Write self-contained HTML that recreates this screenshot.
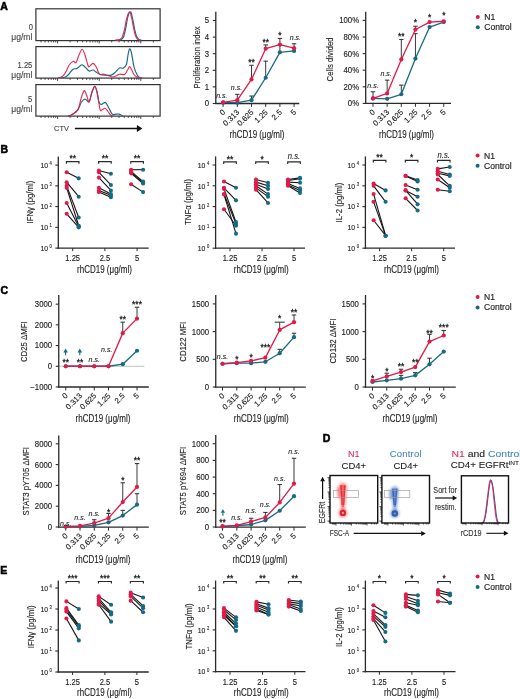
<!DOCTYPE html>
<html><head><meta charset="utf-8"><style>
html,body{margin:0;padding:0;background:#fff;}
svg{display:block;will-change:transform;}
text{font-family:"Liberation Sans", sans-serif;}
</style></head><body>
<svg width="520" height="699" viewBox="0 0 520 699">
<rect width="520" height="699" fill="#fff"/>
<text transform="translate(0.3,9.6)" font-size="10.5" fill="#000" font-weight="bold" stroke="#000" stroke-width="0.55" >A</text>
<text transform="translate(0.5,152.6)" font-size="10.5" fill="#000" font-weight="bold" stroke="#000" stroke-width="0.55" >B</text>
<text transform="translate(0.5,294)" font-size="10.5" fill="#000" font-weight="bold" stroke="#000" stroke-width="0.55" >C</text>
<text transform="translate(322.8,442.2)" font-size="10.5" fill="#000" font-weight="bold" stroke="#000" stroke-width="0.55" >D</text>
<text transform="translate(0.3,574)" font-size="10.5" fill="#000" font-weight="bold" stroke="#000" stroke-width="0.55" >E</text>
<line x1="215.8" y1="11.8" x2="215.8" y2="104.1" stroke="#2a2a2a" stroke-width="1.3" />
<line x1="215.2" y1="103.5" x2="299.3" y2="103.5" stroke="#2a2a2a" stroke-width="1.3" />
<line x1="212.8" y1="103.5" x2="215.8" y2="103.5" stroke="#2a2a2a" stroke-width="1.1" />
<text transform="translate(209.2,106.4) scale(0.95,1)" font-size="8.2" fill="#1c1c1c" text-anchor="end" stroke="#1c1c1c" stroke-width="0.13" >0</text>
<line x1="212.8" y1="86.9" x2="215.8" y2="86.9" stroke="#2a2a2a" stroke-width="1.1" />
<text transform="translate(209.2,89.8) scale(0.95,1)" font-size="8.2" fill="#1c1c1c" text-anchor="end" stroke="#1c1c1c" stroke-width="0.13" >1</text>
<line x1="212.8" y1="70.3" x2="215.8" y2="70.3" stroke="#2a2a2a" stroke-width="1.1" />
<text transform="translate(209.2,73.2) scale(0.95,1)" font-size="8.2" fill="#1c1c1c" text-anchor="end" stroke="#1c1c1c" stroke-width="0.13" >2</text>
<line x1="212.8" y1="53.7" x2="215.8" y2="53.7" stroke="#2a2a2a" stroke-width="1.1" />
<text transform="translate(209.2,56.6) scale(0.95,1)" font-size="8.2" fill="#1c1c1c" text-anchor="end" stroke="#1c1c1c" stroke-width="0.13" >3</text>
<line x1="212.8" y1="37.1" x2="215.8" y2="37.1" stroke="#2a2a2a" stroke-width="1.1" />
<text transform="translate(209.2,40) scale(0.95,1)" font-size="8.2" fill="#1c1c1c" text-anchor="end" stroke="#1c1c1c" stroke-width="0.13" >4</text>
<line x1="212.8" y1="20.5" x2="215.8" y2="20.5" stroke="#2a2a2a" stroke-width="1.1" />
<text transform="translate(209.2,23.4) scale(0.95,1)" font-size="8.2" fill="#1c1c1c" text-anchor="end" stroke="#1c1c1c" stroke-width="0.13" >5</text>
<line x1="223.1" y1="103.5" x2="223.1" y2="106.9" stroke="#2a2a2a" stroke-width="1" />
<text transform="translate(225.7,112.8) rotate(-45)" font-size="7.8" fill="#1c1c1c" text-anchor="end" stroke="#1c1c1c" stroke-width="0.13" >0</text>
<line x1="237.3" y1="103.5" x2="237.3" y2="106.9" stroke="#2a2a2a" stroke-width="1" />
<text transform="translate(239.9,112.8) rotate(-45)" font-size="7.8" fill="#1c1c1c" text-anchor="end" stroke="#1c1c1c" stroke-width="0.13" >0.313</text>
<line x1="251.5" y1="103.5" x2="251.5" y2="106.9" stroke="#2a2a2a" stroke-width="1" />
<text transform="translate(254.1,112.8) rotate(-45)" font-size="7.8" fill="#1c1c1c" text-anchor="end" stroke="#1c1c1c" stroke-width="0.13" >0.625</text>
<line x1="265.7" y1="103.5" x2="265.7" y2="106.9" stroke="#2a2a2a" stroke-width="1" />
<text transform="translate(268.3,112.8) rotate(-45)" font-size="7.8" fill="#1c1c1c" text-anchor="end" stroke="#1c1c1c" stroke-width="0.13" >1.25</text>
<line x1="279.9" y1="103.5" x2="279.9" y2="106.9" stroke="#2a2a2a" stroke-width="1" />
<text transform="translate(282.5,112.8) rotate(-45)" font-size="7.8" fill="#1c1c1c" text-anchor="end" stroke="#1c1c1c" stroke-width="0.13" >2.5</text>
<line x1="294.1" y1="103.5" x2="294.1" y2="106.9" stroke="#2a2a2a" stroke-width="1" />
<text transform="translate(296.7,112.8) rotate(-45)" font-size="7.8" fill="#1c1c1c" text-anchor="end" stroke="#1c1c1c" stroke-width="0.13" >5</text>
<line x1="251.5" y1="100.18" x2="251.5" y2="96.03" stroke="#3a3a3a" stroke-width="1" />
<line x1="249.3" y1="96.03" x2="253.7" y2="96.03" stroke="#3a3a3a" stroke-width="1.1" />
<line x1="265.7" y1="77.77" x2="265.7" y2="61.17" stroke="#3a3a3a" stroke-width="1" />
<line x1="263.5" y1="61.17" x2="267.9" y2="61.17" stroke="#3a3a3a" stroke-width="1.1" />
<line x1="279.9" y1="52.37" x2="279.9" y2="45.4" stroke="#3a3a3a" stroke-width="1" />
<line x1="277.7" y1="45.4" x2="282.1" y2="45.4" stroke="#3a3a3a" stroke-width="1.1" />
<line x1="237.3" y1="100.18" x2="237.3" y2="94.37" stroke="#3a3a3a" stroke-width="1" />
<line x1="235.1" y1="94.37" x2="239.5" y2="94.37" stroke="#3a3a3a" stroke-width="1.1" />
<line x1="251.5" y1="79.43" x2="251.5" y2="65.32" stroke="#3a3a3a" stroke-width="1" />
<line x1="249.3" y1="65.32" x2="253.7" y2="65.32" stroke="#3a3a3a" stroke-width="1.1" />
<line x1="265.7" y1="48.72" x2="265.7" y2="44.9" stroke="#3a3a3a" stroke-width="1" />
<line x1="263.5" y1="44.9" x2="267.9" y2="44.9" stroke="#3a3a3a" stroke-width="1.1" />
<line x1="279.9" y1="44.57" x2="279.9" y2="38.43" stroke="#3a3a3a" stroke-width="1" />
<line x1="277.7" y1="38.43" x2="282.1" y2="38.43" stroke="#3a3a3a" stroke-width="1.1" />
<line x1="294.1" y1="48.22" x2="294.1" y2="43.74" stroke="#3a3a3a" stroke-width="1" />
<line x1="291.9" y1="43.74" x2="296.3" y2="43.74" stroke="#3a3a3a" stroke-width="1.1" />
<polyline points="223.1,102.67 237.3,102.67 251.5,100.18 265.7,77.77 279.9,52.37 294.1,50.88" fill="none" stroke="#176A84" stroke-width="1.3" stroke-linejoin="round" />
<circle cx="223.1" cy="102.67" r="2.1" fill="#176A84"/>
<circle cx="237.3" cy="102.67" r="2.1" fill="#176A84"/>
<circle cx="251.5" cy="100.18" r="2.1" fill="#176A84"/>
<circle cx="265.7" cy="77.77" r="2.1" fill="#176A84"/>
<circle cx="279.9" cy="52.37" r="2.1" fill="#176A84"/>
<circle cx="294.1" cy="50.88" r="2.1" fill="#176A84"/>
<polyline points="223.1,102.34 237.3,100.18 251.5,79.43 265.7,48.72 279.9,44.57 294.1,48.22" fill="none" stroke="#E11A47" stroke-width="1.3" stroke-linejoin="round" />
<circle cx="223.1" cy="102.34" r="2.1" fill="#E11A47"/>
<circle cx="237.3" cy="100.18" r="2.1" fill="#E11A47"/>
<circle cx="251.5" cy="79.43" r="2.1" fill="#E11A47"/>
<circle cx="265.7" cy="48.72" r="2.1" fill="#E11A47"/>
<circle cx="279.9" cy="44.57" r="2.1" fill="#E11A47"/>
<circle cx="294.1" cy="48.22" r="2.1" fill="#E11A47"/>
<text transform="translate(221.8,97.7) scale(0.88,1)" font-size="8" fill="#1c1c1c" text-anchor="middle" font-style="italic" stroke="#1c1c1c" stroke-width="0.1" >n.s.</text>
<text transform="translate(236.5,89.6) scale(0.88,1)" font-size="8" fill="#1c1c1c" text-anchor="middle" font-style="italic" stroke="#1c1c1c" stroke-width="0.1" >n.s.</text>
<text transform="translate(251.5,65)" font-size="8.4" fill="#1c1c1c" text-anchor="middle" stroke="#1c1c1c" stroke-width="0.3" >**</text>
<text transform="translate(265.7,44.8)" font-size="8.4" fill="#1c1c1c" text-anchor="middle" stroke="#1c1c1c" stroke-width="0.3" >**</text>
<text transform="translate(279.9,37.5)" font-size="8.4" fill="#1c1c1c" text-anchor="middle" stroke="#1c1c1c" stroke-width="0.3" >*</text>
<text transform="translate(295.3,39.9) scale(0.88,1)" font-size="8" fill="#1c1c1c" text-anchor="middle" font-style="italic" stroke="#1c1c1c" stroke-width="0.1" >n.s.</text>
<text transform="translate(199.6,57.4) rotate(-90) scale(0.82,1)" font-size="9.5" fill="#1c1c1c" text-anchor="middle" stroke="#1c1c1c" stroke-width="0.13" >Proliferation index</text>
<text transform="translate(257,138.2) scale(0.8,1)" font-size="10" fill="#1c1c1c" text-anchor="middle" stroke="#1c1c1c" stroke-width="0.13" >rhCD19 (μg/ml)</text>
<line x1="365.7" y1="11.8" x2="365.7" y2="104" stroke="#2a2a2a" stroke-width="1.3" />
<line x1="365.1" y1="103.4" x2="451" y2="103.4" stroke="#2a2a2a" stroke-width="1.3" />
<line x1="362.7" y1="103.4" x2="365.7" y2="103.4" stroke="#2a2a2a" stroke-width="1.1" />
<text transform="translate(359.1,106.3) scale(0.95,1)" font-size="8.2" fill="#1c1c1c" text-anchor="end" stroke="#1c1c1c" stroke-width="0.13" >0%</text>
<line x1="362.7" y1="86.8" x2="365.7" y2="86.8" stroke="#2a2a2a" stroke-width="1.1" />
<text transform="translate(359.1,89.7) scale(0.95,1)" font-size="8.2" fill="#1c1c1c" text-anchor="end" stroke="#1c1c1c" stroke-width="0.13" >20%</text>
<line x1="362.7" y1="70.2" x2="365.7" y2="70.2" stroke="#2a2a2a" stroke-width="1.1" />
<text transform="translate(359.1,73.1) scale(0.95,1)" font-size="8.2" fill="#1c1c1c" text-anchor="end" stroke="#1c1c1c" stroke-width="0.13" >40%</text>
<line x1="362.7" y1="53.6" x2="365.7" y2="53.6" stroke="#2a2a2a" stroke-width="1.1" />
<text transform="translate(359.1,56.5) scale(0.95,1)" font-size="8.2" fill="#1c1c1c" text-anchor="end" stroke="#1c1c1c" stroke-width="0.13" >60%</text>
<line x1="362.7" y1="37" x2="365.7" y2="37" stroke="#2a2a2a" stroke-width="1.1" />
<text transform="translate(359.1,39.9) scale(0.95,1)" font-size="8.2" fill="#1c1c1c" text-anchor="end" stroke="#1c1c1c" stroke-width="0.13" >80%</text>
<line x1="362.7" y1="20.4" x2="365.7" y2="20.4" stroke="#2a2a2a" stroke-width="1.1" />
<text transform="translate(359.1,23.3) scale(0.95,1)" font-size="8.2" fill="#1c1c1c" text-anchor="end" stroke="#1c1c1c" stroke-width="0.13" >100%</text>
<line x1="373" y1="103.4" x2="373" y2="106.8" stroke="#2a2a2a" stroke-width="1" />
<text transform="translate(375.6,112.7) rotate(-45)" font-size="7.8" fill="#1c1c1c" text-anchor="end" stroke="#1c1c1c" stroke-width="0.13" >0</text>
<line x1="387.15" y1="103.4" x2="387.15" y2="106.8" stroke="#2a2a2a" stroke-width="1" />
<text transform="translate(389.75,112.7) rotate(-45)" font-size="7.8" fill="#1c1c1c" text-anchor="end" stroke="#1c1c1c" stroke-width="0.13" >0.313</text>
<line x1="401.3" y1="103.4" x2="401.3" y2="106.8" stroke="#2a2a2a" stroke-width="1" />
<text transform="translate(403.9,112.7) rotate(-45)" font-size="7.8" fill="#1c1c1c" text-anchor="end" stroke="#1c1c1c" stroke-width="0.13" >0.625</text>
<line x1="415.45" y1="103.4" x2="415.45" y2="106.8" stroke="#2a2a2a" stroke-width="1" />
<text transform="translate(418.05,112.7) rotate(-45)" font-size="7.8" fill="#1c1c1c" text-anchor="end" stroke="#1c1c1c" stroke-width="0.13" >1.25</text>
<line x1="429.6" y1="103.4" x2="429.6" y2="106.8" stroke="#2a2a2a" stroke-width="1" />
<text transform="translate(432.2,112.7) rotate(-45)" font-size="7.8" fill="#1c1c1c" text-anchor="end" stroke="#1c1c1c" stroke-width="0.13" >2.5</text>
<line x1="443.75" y1="103.4" x2="443.75" y2="106.8" stroke="#2a2a2a" stroke-width="1" />
<text transform="translate(446.35,112.7) rotate(-45)" font-size="7.8" fill="#1c1c1c" text-anchor="end" stroke="#1c1c1c" stroke-width="0.13" >5</text>
<line x1="401.3" y1="94.27" x2="401.3" y2="85.14" stroke="#3a3a3a" stroke-width="1" />
<line x1="399.1" y1="85.14" x2="403.5" y2="85.14" stroke="#3a3a3a" stroke-width="1.1" />
<line x1="415.45" y1="58.58" x2="415.45" y2="33.68" stroke="#3a3a3a" stroke-width="1" />
<line x1="413.25" y1="33.68" x2="417.65" y2="33.68" stroke="#3a3a3a" stroke-width="1.1" />
<line x1="373" y1="98.42" x2="373" y2="91.78" stroke="#3a3a3a" stroke-width="1" />
<line x1="370.8" y1="91.78" x2="375.2" y2="91.78" stroke="#3a3a3a" stroke-width="1.1" />
<line x1="387.15" y1="93.44" x2="387.15" y2="80.16" stroke="#3a3a3a" stroke-width="1" />
<line x1="384.95" y1="80.16" x2="389.35" y2="80.16" stroke="#3a3a3a" stroke-width="1.1" />
<line x1="401.3" y1="59.41" x2="401.3" y2="39.49" stroke="#3a3a3a" stroke-width="1" />
<line x1="399.1" y1="39.49" x2="403.5" y2="39.49" stroke="#3a3a3a" stroke-width="1.1" />
<line x1="415.45" y1="29.53" x2="415.45" y2="26.21" stroke="#3a3a3a" stroke-width="1" />
<line x1="413.25" y1="26.21" x2="417.65" y2="26.21" stroke="#3a3a3a" stroke-width="1.1" />
<polyline points="373,98.42 387.15,98.84 401.3,94.27 415.45,58.58 429.6,27.04 443.75,22.06" fill="none" stroke="#176A84" stroke-width="1.3" stroke-linejoin="round" />
<circle cx="373" cy="98.42" r="2.1" fill="#176A84"/>
<circle cx="387.15" cy="98.84" r="2.1" fill="#176A84"/>
<circle cx="401.3" cy="94.27" r="2.1" fill="#176A84"/>
<circle cx="415.45" cy="58.58" r="2.1" fill="#176A84"/>
<circle cx="429.6" cy="27.04" r="2.1" fill="#176A84"/>
<circle cx="443.75" cy="22.06" r="2.1" fill="#176A84"/>
<polyline points="373,98.42 387.15,93.44 401.3,59.41 415.45,29.53 429.6,22.06 443.75,21.23" fill="none" stroke="#E11A47" stroke-width="1.3" stroke-linejoin="round" />
<circle cx="373" cy="98.42" r="2.1" fill="#E11A47"/>
<circle cx="387.15" cy="93.44" r="2.1" fill="#E11A47"/>
<circle cx="401.3" cy="59.41" r="2.1" fill="#E11A47"/>
<circle cx="415.45" cy="29.53" r="2.1" fill="#E11A47"/>
<circle cx="429.6" cy="22.06" r="2.1" fill="#E11A47"/>
<circle cx="443.75" cy="21.23" r="2.1" fill="#E11A47"/>
<text transform="translate(373,88.2) scale(0.88,1)" font-size="8" fill="#1c1c1c" text-anchor="middle" font-style="italic" stroke="#1c1c1c" stroke-width="0.1" >n.s.</text>
<text transform="translate(386.15,76.2) scale(0.88,1)" font-size="8" fill="#1c1c1c" text-anchor="middle" font-style="italic" stroke="#1c1c1c" stroke-width="0.1" >n.s.</text>
<text transform="translate(401.3,39.2)" font-size="8.4" fill="#1c1c1c" text-anchor="middle" stroke="#1c1c1c" stroke-width="0.3" >**</text>
<text transform="translate(415.45,24.7)" font-size="8.4" fill="#1c1c1c" text-anchor="middle" stroke="#1c1c1c" stroke-width="0.3" >*</text>
<text transform="translate(429.6,20.3)" font-size="8.4" fill="#1c1c1c" text-anchor="middle" stroke="#1c1c1c" stroke-width="0.3" >*</text>
<text transform="translate(443.75,18.3)" font-size="8.4" fill="#1c1c1c" text-anchor="middle" stroke="#1c1c1c" stroke-width="0.3" >*</text>
<text transform="translate(332.5,59.4) rotate(-90) scale(0.82,1)" font-size="9.5" fill="#1c1c1c" text-anchor="middle" stroke="#1c1c1c" stroke-width="0.13" >Cells divided</text>
<text transform="translate(406.5,138.2) scale(0.8,1)" font-size="10" fill="#1c1c1c" text-anchor="middle" stroke="#1c1c1c" stroke-width="0.13" >rhCD19 (μg/ml)</text>
<circle cx="477.8" cy="16.9" r="2" fill="#E11A47"/>
<text transform="translate(484.2,19.9) scale(1.02,1)" font-size="8.4" fill="#1c1c1c" stroke="#1c1c1c" stroke-width="0.15" >N1</text>
<circle cx="477.8" cy="27.2" r="2" fill="#176A84"/>
<text transform="translate(484.2,30.2) scale(1.02,1)" font-size="8.4" fill="#1c1c1c" stroke="#1c1c1c" stroke-width="0.15" >Control</text>
<line x1="58.3" y1="156.4" x2="58.3" y2="248.7" stroke="#2a2a2a" stroke-width="1.3" />
<line x1="57.7" y1="248.1" x2="148.7" y2="248.1" stroke="#2a2a2a" stroke-width="1.3" />
<line x1="55.3" y1="248.1" x2="58.3" y2="248.1" stroke="#2a2a2a" stroke-width="1.1" />
<text transform="translate(48,250.8) scale(0.85,1)" font-size="8" fill="#1c1c1c" text-anchor="end" stroke="#1c1c1c" stroke-width="0.13" >10</text>
<text transform="translate(49.6,248.2) scale(0.85,1)" font-size="4.9" fill="#1c1c1c" stroke="#1c1c1c" stroke-width="0.12" >0</text>
<line x1="55.3" y1="227.35" x2="58.3" y2="227.35" stroke="#2a2a2a" stroke-width="1.1" />
<text transform="translate(48,230.05) scale(0.85,1)" font-size="8" fill="#1c1c1c" text-anchor="end" stroke="#1c1c1c" stroke-width="0.13" >10</text>
<text transform="translate(49.6,227.45) scale(0.85,1)" font-size="4.9" fill="#1c1c1c" stroke="#1c1c1c" stroke-width="0.12" >1</text>
<line x1="55.3" y1="206.6" x2="58.3" y2="206.6" stroke="#2a2a2a" stroke-width="1.1" />
<text transform="translate(48,209.3) scale(0.85,1)" font-size="8" fill="#1c1c1c" text-anchor="end" stroke="#1c1c1c" stroke-width="0.13" >10</text>
<text transform="translate(49.6,206.7) scale(0.85,1)" font-size="4.9" fill="#1c1c1c" stroke="#1c1c1c" stroke-width="0.12" >2</text>
<line x1="55.3" y1="185.85" x2="58.3" y2="185.85" stroke="#2a2a2a" stroke-width="1.1" />
<text transform="translate(48,188.55) scale(0.85,1)" font-size="8" fill="#1c1c1c" text-anchor="end" stroke="#1c1c1c" stroke-width="0.13" >10</text>
<text transform="translate(49.6,185.95) scale(0.85,1)" font-size="4.9" fill="#1c1c1c" stroke="#1c1c1c" stroke-width="0.12" >3</text>
<line x1="55.3" y1="165.1" x2="58.3" y2="165.1" stroke="#2a2a2a" stroke-width="1.1" />
<text transform="translate(48,167.8) scale(0.85,1)" font-size="8" fill="#1c1c1c" text-anchor="end" stroke="#1c1c1c" stroke-width="0.13" >10</text>
<text transform="translate(49.6,165.2) scale(0.85,1)" font-size="4.9" fill="#1c1c1c" stroke="#1c1c1c" stroke-width="0.12" >4</text>
<line x1="72.7" y1="248.1" x2="72.7" y2="251.1" stroke="#2a2a2a" stroke-width="1" />
<text transform="translate(72.7,260.9) scale(0.88,1)" font-size="8.6" fill="#1c1c1c" text-anchor="middle" stroke="#1c1c1c" stroke-width="0.13" >1.25</text>
<path d="M66.4,163.7 V161.6 H79 V163.7" fill="none" stroke="#2a2a2a" stroke-width="1.15" />
<text transform="translate(72.7,161.4)" font-size="8.4" fill="#1c1c1c" text-anchor="middle" stroke="#1c1c1c" stroke-width="0.3" >**</text>
<line x1="66.7" y1="172.3" x2="78.7" y2="178.34" stroke="#151515" stroke-width="1.1" />
<line x1="66.7" y1="182.2" x2="78.7" y2="196.7" stroke="#151515" stroke-width="1.1" />
<line x1="66.7" y1="185.85" x2="78.7" y2="217.45" stroke="#151515" stroke-width="1.1" />
<line x1="66.7" y1="187.86" x2="78.7" y2="225.71" stroke="#151515" stroke-width="1.1" />
<line x1="66.7" y1="202.95" x2="78.7" y2="226.49" stroke="#151515" stroke-width="1.1" />
<line x1="66.7" y1="213.8" x2="78.7" y2="227.35" stroke="#151515" stroke-width="1.1" />
<circle cx="78.7" cy="178.34" r="2.05" fill="#176A84"/>
<circle cx="78.7" cy="196.7" r="2.05" fill="#176A84"/>
<circle cx="78.7" cy="217.45" r="2.05" fill="#176A84"/>
<circle cx="78.7" cy="225.71" r="2.05" fill="#176A84"/>
<circle cx="78.7" cy="226.49" r="2.05" fill="#176A84"/>
<circle cx="78.7" cy="227.35" r="2.05" fill="#176A84"/>
<circle cx="66.7" cy="172.3" r="2.05" fill="#E11A47"/>
<circle cx="66.7" cy="182.2" r="2.05" fill="#E11A47"/>
<circle cx="66.7" cy="185.85" r="2.05" fill="#E11A47"/>
<circle cx="66.7" cy="187.86" r="2.05" fill="#E11A47"/>
<circle cx="66.7" cy="202.95" r="2.05" fill="#E11A47"/>
<circle cx="66.7" cy="213.8" r="2.05" fill="#E11A47"/>
<line x1="104.9" y1="248.1" x2="104.9" y2="251.1" stroke="#2a2a2a" stroke-width="1" />
<text transform="translate(104.9,260.9) scale(0.88,1)" font-size="8.6" fill="#1c1c1c" text-anchor="middle" stroke="#1c1c1c" stroke-width="0.13" >2.5</text>
<path d="M98.6,163.7 V161.6 H111.2 V163.7" fill="none" stroke="#2a2a2a" stroke-width="1.15" />
<text transform="translate(104.9,161.4)" font-size="8.4" fill="#1c1c1c" text-anchor="middle" stroke="#1c1c1c" stroke-width="0.3" >**</text>
<line x1="98.9" y1="170.49" x2="110.9" y2="173.82" stroke="#151515" stroke-width="1.1" />
<line x1="98.9" y1="172.3" x2="110.9" y2="184.99" stroke="#151515" stroke-width="1.1" />
<line x1="98.9" y1="177.59" x2="110.9" y2="190.45" stroke="#151515" stroke-width="1.1" />
<line x1="98.9" y1="187.86" x2="110.9" y2="194.11" stroke="#151515" stroke-width="1.1" />
<line x1="98.9" y1="190.45" x2="110.9" y2="195.31" stroke="#151515" stroke-width="1.1" />
<line x1="98.9" y1="192.1" x2="110.9" y2="197.32" stroke="#151515" stroke-width="1.1" />
<circle cx="110.9" cy="173.82" r="2.05" fill="#176A84"/>
<circle cx="110.9" cy="184.99" r="2.05" fill="#176A84"/>
<circle cx="110.9" cy="190.45" r="2.05" fill="#176A84"/>
<circle cx="110.9" cy="194.11" r="2.05" fill="#176A84"/>
<circle cx="110.9" cy="195.31" r="2.05" fill="#176A84"/>
<circle cx="110.9" cy="197.32" r="2.05" fill="#176A84"/>
<circle cx="98.9" cy="170.49" r="2.05" fill="#E11A47"/>
<circle cx="98.9" cy="172.3" r="2.05" fill="#E11A47"/>
<circle cx="98.9" cy="177.59" r="2.05" fill="#E11A47"/>
<circle cx="98.9" cy="187.86" r="2.05" fill="#E11A47"/>
<circle cx="98.9" cy="190.45" r="2.05" fill="#E11A47"/>
<circle cx="98.9" cy="192.1" r="2.05" fill="#E11A47"/>
<line x1="137.1" y1="248.1" x2="137.1" y2="251.1" stroke="#2a2a2a" stroke-width="1" />
<text transform="translate(137.1,260.9) scale(0.88,1)" font-size="8.6" fill="#1c1c1c" text-anchor="middle" stroke="#1c1c1c" stroke-width="0.13" >5</text>
<path d="M130.8,163.7 V161.6 H143.4 V163.7" fill="none" stroke="#2a2a2a" stroke-width="1.15" />
<text transform="translate(137.1,161.4)" font-size="8.4" fill="#1c1c1c" text-anchor="middle" stroke="#1c1c1c" stroke-width="0.3" >**</text>
<line x1="131.1" y1="169.7" x2="143.1" y2="169.7" stroke="#151515" stroke-width="1.1" />
<line x1="131.1" y1="171.35" x2="143.1" y2="181.61" stroke="#151515" stroke-width="1.1" />
<line x1="131.1" y1="172.3" x2="143.1" y2="182.82" stroke="#151515" stroke-width="1.1" />
<line x1="131.1" y1="173.36" x2="143.1" y2="183.49" stroke="#151515" stroke-width="1.1" />
<line x1="131.1" y1="184.21" x2="143.1" y2="192.1" stroke="#151515" stroke-width="1.1" />
<circle cx="143.1" cy="169.7" r="2.05" fill="#176A84"/>
<circle cx="143.1" cy="181.61" r="2.05" fill="#176A84"/>
<circle cx="143.1" cy="182.82" r="2.05" fill="#176A84"/>
<circle cx="143.1" cy="183.49" r="2.05" fill="#176A84"/>
<circle cx="143.1" cy="192.1" r="2.05" fill="#176A84"/>
<circle cx="131.1" cy="169.7" r="2.05" fill="#E11A47"/>
<circle cx="131.1" cy="171.35" r="2.05" fill="#E11A47"/>
<circle cx="131.1" cy="172.3" r="2.05" fill="#E11A47"/>
<circle cx="131.1" cy="173.36" r="2.05" fill="#E11A47"/>
<circle cx="131.1" cy="184.21" r="2.05" fill="#E11A47"/>
<text transform="translate(32.6,202.1) rotate(-90) scale(0.82,1)" font-size="9.5" fill="#1c1c1c" text-anchor="middle" stroke="#1c1c1c" stroke-width="0.13" >IFNγ (pg/ml)</text>
<text transform="translate(104.5,272.7) scale(0.8,1)" font-size="10" fill="#1c1c1c" text-anchor="middle" stroke="#1c1c1c" stroke-width="0.13" >rhCD19 (μg/ml)</text>
<line x1="215.6" y1="156.4" x2="215.6" y2="248.8" stroke="#2a2a2a" stroke-width="1.3" />
<line x1="215" y1="248.2" x2="305" y2="248.2" stroke="#2a2a2a" stroke-width="1.3" />
<line x1="212.6" y1="248.2" x2="215.6" y2="248.2" stroke="#2a2a2a" stroke-width="1.1" />
<text transform="translate(205.3,250.9) scale(0.85,1)" font-size="8" fill="#1c1c1c" text-anchor="end" stroke="#1c1c1c" stroke-width="0.13" >10</text>
<text transform="translate(206.9,248.3) scale(0.85,1)" font-size="4.9" fill="#1c1c1c" stroke="#1c1c1c" stroke-width="0.12" >0</text>
<line x1="212.6" y1="227.4" x2="215.6" y2="227.4" stroke="#2a2a2a" stroke-width="1.1" />
<text transform="translate(205.3,230.1) scale(0.85,1)" font-size="8" fill="#1c1c1c" text-anchor="end" stroke="#1c1c1c" stroke-width="0.13" >10</text>
<text transform="translate(206.9,227.5) scale(0.85,1)" font-size="4.9" fill="#1c1c1c" stroke="#1c1c1c" stroke-width="0.12" >1</text>
<line x1="212.6" y1="206.6" x2="215.6" y2="206.6" stroke="#2a2a2a" stroke-width="1.1" />
<text transform="translate(205.3,209.3) scale(0.85,1)" font-size="8" fill="#1c1c1c" text-anchor="end" stroke="#1c1c1c" stroke-width="0.13" >10</text>
<text transform="translate(206.9,206.7) scale(0.85,1)" font-size="4.9" fill="#1c1c1c" stroke="#1c1c1c" stroke-width="0.12" >2</text>
<line x1="212.6" y1="185.8" x2="215.6" y2="185.8" stroke="#2a2a2a" stroke-width="1.1" />
<text transform="translate(205.3,188.5) scale(0.85,1)" font-size="8" fill="#1c1c1c" text-anchor="end" stroke="#1c1c1c" stroke-width="0.13" >10</text>
<text transform="translate(206.9,185.9) scale(0.85,1)" font-size="4.9" fill="#1c1c1c" stroke="#1c1c1c" stroke-width="0.12" >3</text>
<line x1="212.6" y1="165" x2="215.6" y2="165" stroke="#2a2a2a" stroke-width="1.1" />
<text transform="translate(205.3,167.7) scale(0.85,1)" font-size="8" fill="#1c1c1c" text-anchor="end" stroke="#1c1c1c" stroke-width="0.13" >10</text>
<text transform="translate(206.9,165.1) scale(0.85,1)" font-size="4.9" fill="#1c1c1c" stroke="#1c1c1c" stroke-width="0.12" >4</text>
<line x1="230" y1="248.2" x2="230" y2="251.2" stroke="#2a2a2a" stroke-width="1" />
<text transform="translate(230,261) scale(0.88,1)" font-size="8.6" fill="#1c1c1c" text-anchor="middle" stroke="#1c1c1c" stroke-width="0.13" >1.25</text>
<path d="M223.7,163.9 V161.8 H236.3 V163.9" fill="none" stroke="#2a2a2a" stroke-width="1.15" />
<text transform="translate(230,161.6)" font-size="8.4" fill="#1c1c1c" text-anchor="middle" stroke="#1c1c1c" stroke-width="0.3" >**</text>
<line x1="224" y1="181.55" x2="236" y2="187.82" stroke="#151515" stroke-width="1.1" />
<line x1="224" y1="187.82" x2="236" y2="200.34" stroke="#151515" stroke-width="1.1" />
<line x1="224" y1="189.02" x2="236" y2="222.09" stroke="#151515" stroke-width="1.1" />
<line x1="224" y1="194.08" x2="236" y2="223.74" stroke="#151515" stroke-width="1.1" />
<line x1="224" y1="194.54" x2="236" y2="233.66" stroke="#151515" stroke-width="1.1" />
<line x1="224" y1="209.2" x2="236" y2="225.75" stroke="#151515" stroke-width="1.1" />
<circle cx="236" cy="187.82" r="2.05" fill="#176A84"/>
<circle cx="236" cy="200.34" r="2.05" fill="#176A84"/>
<circle cx="236" cy="222.09" r="2.05" fill="#176A84"/>
<circle cx="236" cy="223.74" r="2.05" fill="#176A84"/>
<circle cx="236" cy="233.66" r="2.05" fill="#176A84"/>
<circle cx="236" cy="225.75" r="2.05" fill="#176A84"/>
<circle cx="224" cy="181.55" r="2.05" fill="#E11A47"/>
<circle cx="224" cy="187.82" r="2.05" fill="#E11A47"/>
<circle cx="224" cy="189.02" r="2.05" fill="#E11A47"/>
<circle cx="224" cy="194.08" r="2.05" fill="#E11A47"/>
<circle cx="224" cy="194.54" r="2.05" fill="#E11A47"/>
<circle cx="224" cy="209.2" r="2.05" fill="#E11A47"/>
<line x1="262" y1="248.2" x2="262" y2="251.2" stroke="#2a2a2a" stroke-width="1" />
<text transform="translate(262,261) scale(0.88,1)" font-size="8.6" fill="#1c1c1c" text-anchor="middle" stroke="#1c1c1c" stroke-width="0.13" >2.5</text>
<path d="M255.7,163.9 V161.8 H268.3 V163.9" fill="none" stroke="#2a2a2a" stroke-width="1.15" />
<text transform="translate(262,161.6)" font-size="8.4" fill="#1c1c1c" text-anchor="middle" stroke="#1c1c1c" stroke-width="0.3" >*</text>
<line x1="256" y1="179.54" x2="268" y2="182.76" stroke="#151515" stroke-width="1.1" />
<line x1="256" y1="182.14" x2="268" y2="185.8" stroke="#151515" stroke-width="1.1" />
<line x1="256" y1="184.15" x2="268" y2="189.02" stroke="#151515" stroke-width="1.1" />
<line x1="256" y1="185.8" x2="268" y2="194.08" stroke="#151515" stroke-width="1.1" />
<line x1="256" y1="187.82" x2="268" y2="196.68" stroke="#151515" stroke-width="1.1" />
<line x1="256" y1="189.69" x2="268" y2="202.94" stroke="#151515" stroke-width="1.1" />
<circle cx="268" cy="182.76" r="2.05" fill="#176A84"/>
<circle cx="268" cy="185.8" r="2.05" fill="#176A84"/>
<circle cx="268" cy="189.02" r="2.05" fill="#176A84"/>
<circle cx="268" cy="194.08" r="2.05" fill="#176A84"/>
<circle cx="268" cy="196.68" r="2.05" fill="#176A84"/>
<circle cx="268" cy="202.94" r="2.05" fill="#176A84"/>
<circle cx="256" cy="179.54" r="2.05" fill="#E11A47"/>
<circle cx="256" cy="182.14" r="2.05" fill="#E11A47"/>
<circle cx="256" cy="184.15" r="2.05" fill="#E11A47"/>
<circle cx="256" cy="185.8" r="2.05" fill="#E11A47"/>
<circle cx="256" cy="187.82" r="2.05" fill="#E11A47"/>
<circle cx="256" cy="189.69" r="2.05" fill="#E11A47"/>
<line x1="294" y1="248.2" x2="294" y2="251.2" stroke="#2a2a2a" stroke-width="1" />
<text transform="translate(294,261) scale(0.88,1)" font-size="8.6" fill="#1c1c1c" text-anchor="middle" stroke="#1c1c1c" stroke-width="0.13" >5</text>
<path d="M287.7,163.9 V161.8 H300.3 V163.9" fill="none" stroke="#2a2a2a" stroke-width="1.15" />
<text transform="translate(294,158.9) scale(0.9,1)" font-size="8.5" fill="#1c1c1c" text-anchor="middle" font-style="italic" stroke="#1c1c1c" stroke-width="0.1" >n.s.</text>
<line x1="288" y1="179.54" x2="300" y2="177.89" stroke="#151515" stroke-width="1.1" />
<line x1="288" y1="180.49" x2="300" y2="178.68" stroke="#151515" stroke-width="1.1" />
<line x1="288" y1="182.14" x2="300" y2="182.76" stroke="#151515" stroke-width="1.1" />
<line x1="288" y1="183.43" x2="300" y2="188.4" stroke="#151515" stroke-width="1.1" />
<line x1="288" y1="184.94" x2="300" y2="190.41" stroke="#151515" stroke-width="1.1" />
<line x1="288" y1="185.8" x2="300" y2="193.01" stroke="#151515" stroke-width="1.1" />
<circle cx="300" cy="177.89" r="2.05" fill="#176A84"/>
<circle cx="300" cy="178.68" r="2.05" fill="#176A84"/>
<circle cx="300" cy="182.76" r="2.05" fill="#176A84"/>
<circle cx="300" cy="188.4" r="2.05" fill="#176A84"/>
<circle cx="300" cy="190.41" r="2.05" fill="#176A84"/>
<circle cx="300" cy="193.01" r="2.05" fill="#176A84"/>
<circle cx="288" cy="179.54" r="2.05" fill="#E11A47"/>
<circle cx="288" cy="180.49" r="2.05" fill="#E11A47"/>
<circle cx="288" cy="182.14" r="2.05" fill="#E11A47"/>
<circle cx="288" cy="183.43" r="2.05" fill="#E11A47"/>
<circle cx="288" cy="184.94" r="2.05" fill="#E11A47"/>
<circle cx="288" cy="185.8" r="2.05" fill="#E11A47"/>
<text transform="translate(191,201.9) rotate(-90) scale(0.82,1)" font-size="9.5" fill="#1c1c1c" text-anchor="middle" stroke="#1c1c1c" stroke-width="0.13" >TNFα (pg/ml)</text>
<text transform="translate(261.25,272.7) scale(0.8,1)" font-size="10" fill="#1c1c1c" text-anchor="middle" stroke="#1c1c1c" stroke-width="0.13" >rhCD19 (μg/ml)</text>
<line x1="365.4" y1="156.4" x2="365.4" y2="248.8" stroke="#2a2a2a" stroke-width="1.3" />
<line x1="364.8" y1="248.2" x2="455" y2="248.2" stroke="#2a2a2a" stroke-width="1.3" />
<line x1="362.4" y1="248.2" x2="365.4" y2="248.2" stroke="#2a2a2a" stroke-width="1.1" />
<text transform="translate(355.1,250.9) scale(0.85,1)" font-size="8" fill="#1c1c1c" text-anchor="end" stroke="#1c1c1c" stroke-width="0.13" >10</text>
<text transform="translate(356.7,248.3) scale(0.85,1)" font-size="4.9" fill="#1c1c1c" stroke="#1c1c1c" stroke-width="0.12" >0</text>
<line x1="362.4" y1="227.4" x2="365.4" y2="227.4" stroke="#2a2a2a" stroke-width="1.1" />
<text transform="translate(355.1,230.1) scale(0.85,1)" font-size="8" fill="#1c1c1c" text-anchor="end" stroke="#1c1c1c" stroke-width="0.13" >10</text>
<text transform="translate(356.7,227.5) scale(0.85,1)" font-size="4.9" fill="#1c1c1c" stroke="#1c1c1c" stroke-width="0.12" >1</text>
<line x1="362.4" y1="206.6" x2="365.4" y2="206.6" stroke="#2a2a2a" stroke-width="1.1" />
<text transform="translate(355.1,209.3) scale(0.85,1)" font-size="8" fill="#1c1c1c" text-anchor="end" stroke="#1c1c1c" stroke-width="0.13" >10</text>
<text transform="translate(356.7,206.7) scale(0.85,1)" font-size="4.9" fill="#1c1c1c" stroke="#1c1c1c" stroke-width="0.12" >2</text>
<line x1="362.4" y1="185.8" x2="365.4" y2="185.8" stroke="#2a2a2a" stroke-width="1.1" />
<text transform="translate(355.1,188.5) scale(0.85,1)" font-size="8" fill="#1c1c1c" text-anchor="end" stroke="#1c1c1c" stroke-width="0.13" >10</text>
<text transform="translate(356.7,185.9) scale(0.85,1)" font-size="4.9" fill="#1c1c1c" stroke="#1c1c1c" stroke-width="0.12" >3</text>
<line x1="362.4" y1="165" x2="365.4" y2="165" stroke="#2a2a2a" stroke-width="1.1" />
<text transform="translate(355.1,167.7) scale(0.85,1)" font-size="8" fill="#1c1c1c" text-anchor="end" stroke="#1c1c1c" stroke-width="0.13" >10</text>
<text transform="translate(356.7,165.1) scale(0.85,1)" font-size="4.9" fill="#1c1c1c" stroke="#1c1c1c" stroke-width="0.12" >4</text>
<line x1="379.6" y1="248.2" x2="379.6" y2="251.2" stroke="#2a2a2a" stroke-width="1" />
<text transform="translate(379.6,261) scale(0.88,1)" font-size="8.6" fill="#1c1c1c" text-anchor="middle" stroke="#1c1c1c" stroke-width="0.13" >1.25</text>
<path d="M373.3,162.5 V160.4 H385.9 V162.5" fill="none" stroke="#2a2a2a" stroke-width="1.15" />
<text transform="translate(379.6,160.2)" font-size="8.4" fill="#1c1c1c" text-anchor="middle" stroke="#1c1c1c" stroke-width="0.3" >**</text>
<line x1="373.6" y1="183.43" x2="385.6" y2="190.41" stroke="#151515" stroke-width="1.1" />
<line x1="373.6" y1="185.8" x2="385.6" y2="201.81" stroke="#151515" stroke-width="1.1" />
<line x1="373.6" y1="194.08" x2="385.6" y2="235.68" stroke="#151515" stroke-width="1.1" />
<line x1="373.6" y1="201.81" x2="385.6" y2="235.68" stroke="#151515" stroke-width="1.1" />
<line x1="373.6" y1="220.28" x2="385.6" y2="235.68" stroke="#151515" stroke-width="1.1" />
<circle cx="385.6" cy="190.41" r="2.05" fill="#176A84"/>
<circle cx="385.6" cy="201.81" r="2.05" fill="#176A84"/>
<circle cx="385.6" cy="235.68" r="2.05" fill="#176A84"/>
<circle cx="385.6" cy="235.68" r="2.05" fill="#176A84"/>
<circle cx="385.6" cy="235.68" r="2.05" fill="#176A84"/>
<circle cx="373.6" cy="183.43" r="2.05" fill="#E11A47"/>
<circle cx="373.6" cy="185.8" r="2.05" fill="#E11A47"/>
<circle cx="373.6" cy="194.08" r="2.05" fill="#E11A47"/>
<circle cx="373.6" cy="201.81" r="2.05" fill="#E11A47"/>
<circle cx="373.6" cy="220.28" r="2.05" fill="#E11A47"/>
<line x1="411.6" y1="248.2" x2="411.6" y2="251.2" stroke="#2a2a2a" stroke-width="1" />
<text transform="translate(411.6,261) scale(0.88,1)" font-size="8.6" fill="#1c1c1c" text-anchor="middle" stroke="#1c1c1c" stroke-width="0.13" >2.5</text>
<path d="M405.3,162.5 V160.4 H417.9 V162.5" fill="none" stroke="#2a2a2a" stroke-width="1.15" />
<text transform="translate(411.6,160.2)" font-size="8.4" fill="#1c1c1c" text-anchor="middle" stroke="#1c1c1c" stroke-width="0.3" >*</text>
<line x1="405.6" y1="175.88" x2="417.6" y2="180" stroke="#151515" stroke-width="1.1" />
<line x1="405.6" y1="175.88" x2="417.6" y2="181.55" stroke="#151515" stroke-width="1.1" />
<line x1="405.6" y1="184.94" x2="417.6" y2="189.69" stroke="#151515" stroke-width="1.1" />
<line x1="405.6" y1="190.41" x2="417.6" y2="196.68" stroke="#151515" stroke-width="1.1" />
<line x1="405.6" y1="190.41" x2="417.6" y2="204.23" stroke="#151515" stroke-width="1.1" />
<line x1="405.6" y1="198.32" x2="417.6" y2="210.49" stroke="#151515" stroke-width="1.1" />
<circle cx="417.6" cy="180" r="2.05" fill="#176A84"/>
<circle cx="417.6" cy="181.55" r="2.05" fill="#176A84"/>
<circle cx="417.6" cy="189.69" r="2.05" fill="#176A84"/>
<circle cx="417.6" cy="196.68" r="2.05" fill="#176A84"/>
<circle cx="417.6" cy="204.23" r="2.05" fill="#176A84"/>
<circle cx="417.6" cy="210.49" r="2.05" fill="#176A84"/>
<circle cx="405.6" cy="175.88" r="2.05" fill="#E11A47"/>
<circle cx="405.6" cy="175.88" r="2.05" fill="#E11A47"/>
<circle cx="405.6" cy="184.94" r="2.05" fill="#E11A47"/>
<circle cx="405.6" cy="190.41" r="2.05" fill="#E11A47"/>
<circle cx="405.6" cy="190.41" r="2.05" fill="#E11A47"/>
<circle cx="405.6" cy="198.32" r="2.05" fill="#E11A47"/>
<line x1="443.75" y1="248.2" x2="443.75" y2="251.2" stroke="#2a2a2a" stroke-width="1" />
<text transform="translate(443.75,261) scale(0.88,1)" font-size="8.6" fill="#1c1c1c" text-anchor="middle" stroke="#1c1c1c" stroke-width="0.13" >5</text>
<path d="M437.45,162.5 V160.4 H450.05 V162.5" fill="none" stroke="#2a2a2a" stroke-width="1.15" />
<text transform="translate(443.75,157.5) scale(0.9,1)" font-size="8.5" fill="#1c1c1c" text-anchor="middle" font-style="italic" stroke="#1c1c1c" stroke-width="0.1" >n.s.</text>
<line x1="437.75" y1="168.89" x2="449.75" y2="167.02" stroke="#151515" stroke-width="1.1" />
<line x1="437.75" y1="171.26" x2="449.75" y2="174.48" stroke="#151515" stroke-width="1.1" />
<line x1="437.75" y1="173.28" x2="449.75" y2="175.88" stroke="#151515" stroke-width="1.1" />
<line x1="437.75" y1="174.48" x2="449.75" y2="185.8" stroke="#151515" stroke-width="1.1" />
<line x1="437.75" y1="179.54" x2="449.75" y2="187.82" stroke="#151515" stroke-width="1.1" />
<line x1="437.75" y1="189.69" x2="449.75" y2="191.2" stroke="#151515" stroke-width="1.1" />
<circle cx="449.75" cy="167.02" r="2.05" fill="#176A84"/>
<circle cx="449.75" cy="174.48" r="2.05" fill="#176A84"/>
<circle cx="449.75" cy="175.88" r="2.05" fill="#176A84"/>
<circle cx="449.75" cy="185.8" r="2.05" fill="#176A84"/>
<circle cx="449.75" cy="187.82" r="2.05" fill="#176A84"/>
<circle cx="449.75" cy="191.2" r="2.05" fill="#176A84"/>
<circle cx="437.75" cy="168.89" r="2.05" fill="#E11A47"/>
<circle cx="437.75" cy="171.26" r="2.05" fill="#E11A47"/>
<circle cx="437.75" cy="173.28" r="2.05" fill="#E11A47"/>
<circle cx="437.75" cy="174.48" r="2.05" fill="#E11A47"/>
<circle cx="437.75" cy="179.54" r="2.05" fill="#E11A47"/>
<circle cx="437.75" cy="189.69" r="2.05" fill="#E11A47"/>
<text transform="translate(342,202.5) rotate(-90) scale(0.82,1)" font-size="9.5" fill="#1c1c1c" text-anchor="middle" stroke="#1c1c1c" stroke-width="0.13" >IL-2 (pg/ml)</text>
<text transform="translate(411.5,272.7) scale(0.8,1)" font-size="10" fill="#1c1c1c" text-anchor="middle" stroke="#1c1c1c" stroke-width="0.13" >rhCD19 (μg/ml)</text>
<circle cx="477.6" cy="155.5" r="2" fill="#E11A47"/>
<text transform="translate(484,158.5) scale(1.02,1)" font-size="8.4" fill="#1c1c1c" stroke="#1c1c1c" stroke-width="0.15" >N1</text>
<circle cx="477.6" cy="165.8" r="2" fill="#176A84"/>
<text transform="translate(484,168.8) scale(1.02,1)" font-size="8.4" fill="#1c1c1c" stroke="#1c1c1c" stroke-width="0.15" >Control</text>
<line x1="58.75" y1="366.25" x2="144.3" y2="366.25" stroke="#b0b0b0" stroke-width="0.8" />
<line x1="58.75" y1="295" x2="58.75" y2="387.6" stroke="#2a2a2a" stroke-width="1.3" />
<line x1="58.15" y1="387" x2="148.8" y2="387" stroke="#2a2a2a" stroke-width="1.3" />
<line x1="55.75" y1="386.95" x2="58.75" y2="386.95" stroke="#2a2a2a" stroke-width="1.1" />
<text transform="translate(52.15,389.85) scale(0.95,1)" font-size="8.2" fill="#1c1c1c" text-anchor="end" stroke="#1c1c1c" stroke-width="0.13" >−1000</text>
<line x1="55.75" y1="366.25" x2="58.75" y2="366.25" stroke="#2a2a2a" stroke-width="1.1" />
<text transform="translate(52.15,369.15) scale(0.95,1)" font-size="8.2" fill="#1c1c1c" text-anchor="end" stroke="#1c1c1c" stroke-width="0.13" >0</text>
<line x1="55.75" y1="345.55" x2="58.75" y2="345.55" stroke="#2a2a2a" stroke-width="1.1" />
<text transform="translate(52.15,348.45) scale(0.95,1)" font-size="8.2" fill="#1c1c1c" text-anchor="end" stroke="#1c1c1c" stroke-width="0.13" >1000</text>
<line x1="55.75" y1="324.85" x2="58.75" y2="324.85" stroke="#2a2a2a" stroke-width="1.1" />
<text transform="translate(52.15,327.75) scale(0.95,1)" font-size="8.2" fill="#1c1c1c" text-anchor="end" stroke="#1c1c1c" stroke-width="0.13" >2000</text>
<line x1="55.75" y1="304.15" x2="58.75" y2="304.15" stroke="#2a2a2a" stroke-width="1.1" />
<text transform="translate(52.15,307.05) scale(0.95,1)" font-size="8.2" fill="#1c1c1c" text-anchor="end" stroke="#1c1c1c" stroke-width="0.13" >3000</text>
<line x1="65.75" y1="387" x2="65.75" y2="390.4" stroke="#2a2a2a" stroke-width="1" />
<text transform="translate(68.35,396.3) rotate(-45)" font-size="7.8" fill="#1c1c1c" text-anchor="end" stroke="#1c1c1c" stroke-width="0.13" >0</text>
<line x1="80" y1="387" x2="80" y2="390.4" stroke="#2a2a2a" stroke-width="1" />
<text transform="translate(82.6,396.3) rotate(-45)" font-size="7.8" fill="#1c1c1c" text-anchor="end" stroke="#1c1c1c" stroke-width="0.13" >0.313</text>
<line x1="94.25" y1="387" x2="94.25" y2="390.4" stroke="#2a2a2a" stroke-width="1" />
<text transform="translate(96.85,396.3) rotate(-45)" font-size="7.8" fill="#1c1c1c" text-anchor="end" stroke="#1c1c1c" stroke-width="0.13" >0.625</text>
<line x1="108.5" y1="387" x2="108.5" y2="390.4" stroke="#2a2a2a" stroke-width="1" />
<text transform="translate(111.1,396.3) rotate(-45)" font-size="7.8" fill="#1c1c1c" text-anchor="end" stroke="#1c1c1c" stroke-width="0.13" >1.25</text>
<line x1="122.75" y1="387" x2="122.75" y2="390.4" stroke="#2a2a2a" stroke-width="1" />
<text transform="translate(125.35,396.3) rotate(-45)" font-size="7.8" fill="#1c1c1c" text-anchor="end" stroke="#1c1c1c" stroke-width="0.13" >2.5</text>
<line x1="137" y1="387" x2="137" y2="390.4" stroke="#2a2a2a" stroke-width="1" />
<text transform="translate(139.6,396.3) rotate(-45)" font-size="7.8" fill="#1c1c1c" text-anchor="end" stroke="#1c1c1c" stroke-width="0.13" >5</text>
<line x1="122.75" y1="333.13" x2="122.75" y2="322.16" stroke="#3a3a3a" stroke-width="1" />
<line x1="120.55" y1="322.16" x2="124.95" y2="322.16" stroke="#3a3a3a" stroke-width="1.1" />
<line x1="137" y1="318.64" x2="137" y2="307.25" stroke="#3a3a3a" stroke-width="1" />
<line x1="134.8" y1="307.25" x2="139.2" y2="307.25" stroke="#3a3a3a" stroke-width="1.1" />
<polyline points="65.75,366.25 80,366.25 94.25,366.25 108.5,366.25 122.75,364.18 137,350.73" fill="none" stroke="#176A84" stroke-width="1.3" stroke-linejoin="round" />
<circle cx="65.75" cy="366.25" r="2.1" fill="#176A84"/>
<circle cx="80" cy="366.25" r="2.1" fill="#176A84"/>
<circle cx="94.25" cy="366.25" r="2.1" fill="#176A84"/>
<circle cx="108.5" cy="366.25" r="2.1" fill="#176A84"/>
<circle cx="122.75" cy="364.18" r="2.1" fill="#176A84"/>
<circle cx="137" cy="350.73" r="2.1" fill="#176A84"/>
<polyline points="65.75,366.25 80,366.25 94.25,366.25 108.5,366.25 122.75,333.13 137,318.64" fill="none" stroke="#E11A47" stroke-width="1.3" stroke-linejoin="round" />
<circle cx="65.75" cy="366.25" r="2.1" fill="#E11A47"/>
<circle cx="80" cy="366.25" r="2.1" fill="#E11A47"/>
<circle cx="94.25" cy="366.25" r="2.1" fill="#E11A47"/>
<circle cx="108.5" cy="366.25" r="2.1" fill="#E11A47"/>
<circle cx="122.75" cy="333.13" r="2.1" fill="#E11A47"/>
<circle cx="137" cy="318.64" r="2.1" fill="#E11A47"/>
<text transform="translate(65.75,364.8)" font-size="8.4" fill="#1c1c1c" text-anchor="middle" stroke="#1c1c1c" stroke-width="0.3" >**</text>
<text transform="translate(80,364.8)" font-size="8.4" fill="#1c1c1c" text-anchor="middle" stroke="#1c1c1c" stroke-width="0.3" >**</text>
<text transform="translate(94.25,362.2) scale(0.88,1)" font-size="8" fill="#1c1c1c" text-anchor="middle" font-style="italic" stroke="#1c1c1c" stroke-width="0.1" >n.s.</text>
<text transform="translate(106.7,351.7) scale(0.88,1)" font-size="8" fill="#1c1c1c" text-anchor="middle" font-style="italic" stroke="#1c1c1c" stroke-width="0.1" >n.s.</text>
<text transform="translate(122.75,321.5)" font-size="8.4" fill="#1c1c1c" text-anchor="middle" stroke="#1c1c1c" stroke-width="0.3" >**</text>
<text transform="translate(137,307.1)" font-size="8.4" fill="#1c1c1c" text-anchor="middle" stroke="#1c1c1c" stroke-width="0.3" >***</text>
<text transform="translate(27.1,341.7) rotate(-90) scale(0.82,1)" font-size="9.5" fill="#1c1c1c" text-anchor="middle" stroke="#1c1c1c" stroke-width="0.13" >CD25 ΔMFI</text>
<text transform="translate(103,421.7) scale(0.8,1)" font-size="10" fill="#1c1c1c" text-anchor="middle" stroke="#1c1c1c" stroke-width="0.13" >rhCD19 (μg/ml)</text>
<line x1="215.75" y1="295" x2="215.75" y2="387.7" stroke="#2a2a2a" stroke-width="1.3" />
<line x1="215.15" y1="387.1" x2="305.8" y2="387.1" stroke="#2a2a2a" stroke-width="1.3" />
<line x1="212.75" y1="387" x2="215.75" y2="387" stroke="#2a2a2a" stroke-width="1.1" />
<text transform="translate(209.15,389.9) scale(0.95,1)" font-size="8.2" fill="#1c1c1c" text-anchor="end" stroke="#1c1c1c" stroke-width="0.13" >0</text>
<line x1="212.75" y1="359.3" x2="215.75" y2="359.3" stroke="#2a2a2a" stroke-width="1.1" />
<text transform="translate(209.15,362.2) scale(0.95,1)" font-size="8.2" fill="#1c1c1c" text-anchor="end" stroke="#1c1c1c" stroke-width="0.13" >500</text>
<line x1="212.75" y1="331.6" x2="215.75" y2="331.6" stroke="#2a2a2a" stroke-width="1.1" />
<text transform="translate(209.15,334.5) scale(0.95,1)" font-size="8.2" fill="#1c1c1c" text-anchor="end" stroke="#1c1c1c" stroke-width="0.13" >1000</text>
<line x1="212.75" y1="303.9" x2="215.75" y2="303.9" stroke="#2a2a2a" stroke-width="1.1" />
<text transform="translate(209.15,306.8) scale(0.95,1)" font-size="8.2" fill="#1c1c1c" text-anchor="end" stroke="#1c1c1c" stroke-width="0.13" >1500</text>
<line x1="222.5" y1="387.1" x2="222.5" y2="390.5" stroke="#2a2a2a" stroke-width="1" />
<text transform="translate(225.1,396.4) rotate(-45)" font-size="7.8" fill="#1c1c1c" text-anchor="end" stroke="#1c1c1c" stroke-width="0.13" >0</text>
<line x1="236.8" y1="387.1" x2="236.8" y2="390.5" stroke="#2a2a2a" stroke-width="1" />
<text transform="translate(239.4,396.4) rotate(-45)" font-size="7.8" fill="#1c1c1c" text-anchor="end" stroke="#1c1c1c" stroke-width="0.13" >0.313</text>
<line x1="251.1" y1="387.1" x2="251.1" y2="390.5" stroke="#2a2a2a" stroke-width="1" />
<text transform="translate(253.7,396.4) rotate(-45)" font-size="7.8" fill="#1c1c1c" text-anchor="end" stroke="#1c1c1c" stroke-width="0.13" >0.625</text>
<line x1="265.4" y1="387.1" x2="265.4" y2="390.5" stroke="#2a2a2a" stroke-width="1" />
<text transform="translate(268,396.4) rotate(-45)" font-size="7.8" fill="#1c1c1c" text-anchor="end" stroke="#1c1c1c" stroke-width="0.13" >1.25</text>
<line x1="279.7" y1="387.1" x2="279.7" y2="390.5" stroke="#2a2a2a" stroke-width="1" />
<text transform="translate(282.3,396.4) rotate(-45)" font-size="7.8" fill="#1c1c1c" text-anchor="end" stroke="#1c1c1c" stroke-width="0.13" >2.5</text>
<line x1="294" y1="387.1" x2="294" y2="390.5" stroke="#2a2a2a" stroke-width="1" />
<text transform="translate(296.6,396.4) rotate(-45)" font-size="7.8" fill="#1c1c1c" text-anchor="end" stroke="#1c1c1c" stroke-width="0.13" >5</text>
<line x1="279.7" y1="353.21" x2="279.7" y2="349.33" stroke="#3a3a3a" stroke-width="1" />
<line x1="277.5" y1="349.33" x2="281.9" y2="349.33" stroke="#3a3a3a" stroke-width="1.1" />
<line x1="294" y1="337.14" x2="294" y2="333.26" stroke="#3a3a3a" stroke-width="1" />
<line x1="291.8" y1="333.26" x2="296.2" y2="333.26" stroke="#3a3a3a" stroke-width="1.1" />
<line x1="279.7" y1="329.94" x2="279.7" y2="322.18" stroke="#3a3a3a" stroke-width="1" />
<line x1="274.7" y1="322.18" x2="284.7" y2="322.18" stroke="#3a3a3a" stroke-width="1.1" />
<line x1="294" y1="322.18" x2="294" y2="314.98" stroke="#3a3a3a" stroke-width="1" />
<line x1="291.8" y1="314.98" x2="296.2" y2="314.98" stroke="#3a3a3a" stroke-width="1.1" />
<polyline points="222.5,363.73 236.8,363.18 251.1,363.18 265.4,361.79 279.7,353.21 294,337.14" fill="none" stroke="#176A84" stroke-width="1.3" stroke-linejoin="round" />
<circle cx="222.5" cy="363.73" r="2.1" fill="#176A84"/>
<circle cx="236.8" cy="363.18" r="2.1" fill="#176A84"/>
<circle cx="251.1" cy="363.18" r="2.1" fill="#176A84"/>
<circle cx="265.4" cy="361.79" r="2.1" fill="#176A84"/>
<circle cx="279.7" cy="353.21" r="2.1" fill="#176A84"/>
<circle cx="294" cy="337.14" r="2.1" fill="#176A84"/>
<polyline points="222.5,363.73 236.8,362.62 251.1,360.96 265.4,357.64 279.7,329.94 294,322.18" fill="none" stroke="#E11A47" stroke-width="1.3" stroke-linejoin="round" />
<circle cx="222.5" cy="363.73" r="2.1" fill="#E11A47"/>
<circle cx="236.8" cy="362.62" r="2.1" fill="#E11A47"/>
<circle cx="251.1" cy="360.96" r="2.1" fill="#E11A47"/>
<circle cx="265.4" cy="357.64" r="2.1" fill="#E11A47"/>
<circle cx="279.7" cy="329.94" r="2.1" fill="#E11A47"/>
<circle cx="294" cy="322.18" r="2.1" fill="#E11A47"/>
<text transform="translate(222.5,358.95) scale(0.88,1)" font-size="8" fill="#1c1c1c" text-anchor="middle" font-style="italic" stroke="#1c1c1c" stroke-width="0.1" >n.s.</text>
<text transform="translate(236.8,361.5)" font-size="8.4" fill="#1c1c1c" text-anchor="middle" stroke="#1c1c1c" stroke-width="0.3" >*</text>
<text transform="translate(251.1,359.5)" font-size="8.4" fill="#1c1c1c" text-anchor="middle" stroke="#1c1c1c" stroke-width="0.3" >*</text>
<text transform="translate(265.4,349.5)" font-size="8.4" fill="#1c1c1c" text-anchor="middle" stroke="#1c1c1c" stroke-width="0.3" >***</text>
<text transform="translate(279.7,321.25)" font-size="8.4" fill="#1c1c1c" text-anchor="middle" stroke="#1c1c1c" stroke-width="0.3" >*</text>
<text transform="translate(294,314.5)" font-size="8.4" fill="#1c1c1c" text-anchor="middle" stroke="#1c1c1c" stroke-width="0.3" >**</text>
<text transform="translate(185.6,341.8) rotate(-90) scale(0.82,1)" font-size="9.5" fill="#1c1c1c" text-anchor="middle" stroke="#1c1c1c" stroke-width="0.13" >CD122 MFI</text>
<text transform="translate(261.2,421.7) scale(0.8,1)" font-size="10" fill="#1c1c1c" text-anchor="middle" stroke="#1c1c1c" stroke-width="0.13" >rhCD19 (μg/ml)</text>
<line x1="365.5" y1="295" x2="365.5" y2="387.8" stroke="#2a2a2a" stroke-width="1.3" />
<line x1="364.9" y1="387.2" x2="455.8" y2="387.2" stroke="#2a2a2a" stroke-width="1.3" />
<line x1="362.5" y1="387" x2="365.5" y2="387" stroke="#2a2a2a" stroke-width="1.1" />
<text transform="translate(358.9,389.9) scale(0.95,1)" font-size="8.2" fill="#1c1c1c" text-anchor="end" stroke="#1c1c1c" stroke-width="0.13" >0</text>
<line x1="362.5" y1="359.3" x2="365.5" y2="359.3" stroke="#2a2a2a" stroke-width="1.1" />
<text transform="translate(358.9,362.2) scale(0.95,1)" font-size="8.2" fill="#1c1c1c" text-anchor="end" stroke="#1c1c1c" stroke-width="0.13" >500</text>
<line x1="362.5" y1="331.6" x2="365.5" y2="331.6" stroke="#2a2a2a" stroke-width="1.1" />
<text transform="translate(358.9,334.5) scale(0.95,1)" font-size="8.2" fill="#1c1c1c" text-anchor="end" stroke="#1c1c1c" stroke-width="0.13" >1000</text>
<line x1="362.5" y1="303.9" x2="365.5" y2="303.9" stroke="#2a2a2a" stroke-width="1.1" />
<text transform="translate(358.9,306.8) scale(0.95,1)" font-size="8.2" fill="#1c1c1c" text-anchor="end" stroke="#1c1c1c" stroke-width="0.13" >1500</text>
<line x1="372.5" y1="387.2" x2="372.5" y2="390.6" stroke="#2a2a2a" stroke-width="1" />
<text transform="translate(375.1,396.5) rotate(-45)" font-size="7.8" fill="#1c1c1c" text-anchor="end" stroke="#1c1c1c" stroke-width="0.13" >0</text>
<line x1="386.75" y1="387.2" x2="386.75" y2="390.6" stroke="#2a2a2a" stroke-width="1" />
<text transform="translate(389.35,396.5) rotate(-45)" font-size="7.8" fill="#1c1c1c" text-anchor="end" stroke="#1c1c1c" stroke-width="0.13" >0.313</text>
<line x1="401" y1="387.2" x2="401" y2="390.6" stroke="#2a2a2a" stroke-width="1" />
<text transform="translate(403.6,396.5) rotate(-45)" font-size="7.8" fill="#1c1c1c" text-anchor="end" stroke="#1c1c1c" stroke-width="0.13" >0.625</text>
<line x1="415.25" y1="387.2" x2="415.25" y2="390.6" stroke="#2a2a2a" stroke-width="1" />
<text transform="translate(417.85,396.5) rotate(-45)" font-size="7.8" fill="#1c1c1c" text-anchor="end" stroke="#1c1c1c" stroke-width="0.13" >1.25</text>
<line x1="429.5" y1="387.2" x2="429.5" y2="390.6" stroke="#2a2a2a" stroke-width="1" />
<text transform="translate(432.1,396.5) rotate(-45)" font-size="7.8" fill="#1c1c1c" text-anchor="end" stroke="#1c1c1c" stroke-width="0.13" >2.5</text>
<line x1="443.75" y1="387.2" x2="443.75" y2="390.6" stroke="#2a2a2a" stroke-width="1" />
<text transform="translate(446.35,396.5) rotate(-45)" font-size="7.8" fill="#1c1c1c" text-anchor="end" stroke="#1c1c1c" stroke-width="0.13" >5</text>
<line x1="401" y1="378.69" x2="401" y2="375.37" stroke="#3a3a3a" stroke-width="1" />
<line x1="398.8" y1="375.37" x2="403.2" y2="375.37" stroke="#3a3a3a" stroke-width="1.1" />
<line x1="415.25" y1="375.37" x2="415.25" y2="372.6" stroke="#3a3a3a" stroke-width="1" />
<line x1="413.05" y1="372.6" x2="417.45" y2="372.6" stroke="#3a3a3a" stroke-width="1.1" />
<line x1="429.5" y1="364.29" x2="429.5" y2="358.19" stroke="#3a3a3a" stroke-width="1" />
<line x1="427.3" y1="358.19" x2="431.7" y2="358.19" stroke="#3a3a3a" stroke-width="1.1" />
<line x1="386.75" y1="376.47" x2="386.75" y2="373.15" stroke="#3a3a3a" stroke-width="1" />
<line x1="384.55" y1="373.15" x2="388.95" y2="373.15" stroke="#3a3a3a" stroke-width="1.1" />
<line x1="401" y1="372.04" x2="401" y2="369.27" stroke="#3a3a3a" stroke-width="1" />
<line x1="398.8" y1="369.27" x2="403.2" y2="369.27" stroke="#3a3a3a" stroke-width="1.1" />
<line x1="429.5" y1="341.57" x2="429.5" y2="334.37" stroke="#3a3a3a" stroke-width="1" />
<line x1="427.3" y1="334.37" x2="431.7" y2="334.37" stroke="#3a3a3a" stroke-width="1.1" />
<line x1="443.75" y1="335.48" x2="443.75" y2="330.49" stroke="#3a3a3a" stroke-width="1" />
<line x1="441.55" y1="330.49" x2="445.95" y2="330.49" stroke="#3a3a3a" stroke-width="1.1" />
<polyline points="372.5,382.01 386.75,380.35 401,378.69 415.25,375.37 429.5,364.29 443.75,351.54" fill="none" stroke="#176A84" stroke-width="1.3" stroke-linejoin="round" />
<circle cx="372.5" cy="382.01" r="2.1" fill="#176A84"/>
<circle cx="386.75" cy="380.35" r="2.1" fill="#176A84"/>
<circle cx="401" cy="378.69" r="2.1" fill="#176A84"/>
<circle cx="415.25" cy="375.37" r="2.1" fill="#176A84"/>
<circle cx="429.5" cy="364.29" r="2.1" fill="#176A84"/>
<circle cx="443.75" cy="351.54" r="2.1" fill="#176A84"/>
<polyline points="372.5,380.91 386.75,376.47 401,372.04 415.25,367.06 429.5,341.57 443.75,335.48" fill="none" stroke="#E11A47" stroke-width="1.3" stroke-linejoin="round" />
<circle cx="372.5" cy="380.91" r="2.1" fill="#E11A47"/>
<circle cx="386.75" cy="376.47" r="2.1" fill="#E11A47"/>
<circle cx="401" cy="372.04" r="2.1" fill="#E11A47"/>
<circle cx="415.25" cy="367.06" r="2.1" fill="#E11A47"/>
<circle cx="429.5" cy="341.57" r="2.1" fill="#E11A47"/>
<circle cx="443.75" cy="335.48" r="2.1" fill="#E11A47"/>
<text transform="translate(372.5,380.75)" font-size="8.4" fill="#1c1c1c" text-anchor="middle" stroke="#1c1c1c" stroke-width="0.3" >*</text>
<text transform="translate(386.75,374)" font-size="8.4" fill="#1c1c1c" text-anchor="middle" stroke="#1c1c1c" stroke-width="0.3" >*</text>
<text transform="translate(401,369)" font-size="8.4" fill="#1c1c1c" text-anchor="middle" stroke="#1c1c1c" stroke-width="0.3" >**</text>
<text transform="translate(415.25,364.5)" font-size="8.4" fill="#1c1c1c" text-anchor="middle" stroke="#1c1c1c" stroke-width="0.3" >**</text>
<text transform="translate(429.5,335.75)" font-size="8.4" fill="#1c1c1c" text-anchor="middle" stroke="#1c1c1c" stroke-width="0.3" >**</text>
<text transform="translate(443.75,330.25)" font-size="8.4" fill="#1c1c1c" text-anchor="middle" stroke="#1c1c1c" stroke-width="0.3" >***</text>
<text transform="translate(335.6,341.1) rotate(-90) scale(0.82,1)" font-size="9.5" fill="#1c1c1c" text-anchor="middle" stroke="#1c1c1c" stroke-width="0.13" >CD132 ΔMFI</text>
<text transform="translate(410,421.7) scale(0.8,1)" font-size="10" fill="#1c1c1c" text-anchor="middle" stroke="#1c1c1c" stroke-width="0.13" >rhCD19 (μg/ml)</text>
<circle cx="477.6" cy="297.1" r="2" fill="#E11A47"/>
<text transform="translate(484,300.1) scale(1.02,1)" font-size="8.4" fill="#1c1c1c" stroke="#1c1c1c" stroke-width="0.15" >N1</text>
<circle cx="477.6" cy="307.4" r="2" fill="#176A84"/>
<text transform="translate(484,310.4) scale(1.02,1)" font-size="8.4" fill="#1c1c1c" stroke="#1c1c1c" stroke-width="0.15" >Control</text>
<line x1="58.75" y1="435.5" x2="58.75" y2="527.8" stroke="#2a2a2a" stroke-width="1.3" />
<line x1="58.15" y1="527.2" x2="148.8" y2="527.2" stroke="#2a2a2a" stroke-width="1.3" />
<line x1="55.75" y1="527" x2="58.75" y2="527" stroke="#2a2a2a" stroke-width="1.1" />
<text transform="translate(52.15,529.9) scale(0.95,1)" font-size="8.2" fill="#1c1c1c" text-anchor="end" stroke="#1c1c1c" stroke-width="0.13" >0</text>
<line x1="55.75" y1="506.2" x2="58.75" y2="506.2" stroke="#2a2a2a" stroke-width="1.1" />
<text transform="translate(52.15,509.1) scale(0.95,1)" font-size="8.2" fill="#1c1c1c" text-anchor="end" stroke="#1c1c1c" stroke-width="0.13" >2000</text>
<line x1="55.75" y1="485.4" x2="58.75" y2="485.4" stroke="#2a2a2a" stroke-width="1.1" />
<text transform="translate(52.15,488.3) scale(0.95,1)" font-size="8.2" fill="#1c1c1c" text-anchor="end" stroke="#1c1c1c" stroke-width="0.13" >4000</text>
<line x1="55.75" y1="464.6" x2="58.75" y2="464.6" stroke="#2a2a2a" stroke-width="1.1" />
<text transform="translate(52.15,467.5) scale(0.95,1)" font-size="8.2" fill="#1c1c1c" text-anchor="end" stroke="#1c1c1c" stroke-width="0.13" >6000</text>
<line x1="55.75" y1="443.8" x2="58.75" y2="443.8" stroke="#2a2a2a" stroke-width="1.1" />
<text transform="translate(52.15,446.7) scale(0.95,1)" font-size="8.2" fill="#1c1c1c" text-anchor="end" stroke="#1c1c1c" stroke-width="0.13" >8000</text>
<line x1="65.75" y1="527.2" x2="65.75" y2="530.6" stroke="#2a2a2a" stroke-width="1" />
<text transform="translate(68.35,536.5) rotate(-45)" font-size="7.8" fill="#1c1c1c" text-anchor="end" stroke="#1c1c1c" stroke-width="0.13" >0</text>
<line x1="80" y1="527.2" x2="80" y2="530.6" stroke="#2a2a2a" stroke-width="1" />
<text transform="translate(82.6,536.5) rotate(-45)" font-size="7.8" fill="#1c1c1c" text-anchor="end" stroke="#1c1c1c" stroke-width="0.13" >0.313</text>
<line x1="94.25" y1="527.2" x2="94.25" y2="530.6" stroke="#2a2a2a" stroke-width="1" />
<text transform="translate(96.85,536.5) rotate(-45)" font-size="7.8" fill="#1c1c1c" text-anchor="end" stroke="#1c1c1c" stroke-width="0.13" >0.625</text>
<line x1="108.5" y1="527.2" x2="108.5" y2="530.6" stroke="#2a2a2a" stroke-width="1" />
<text transform="translate(111.1,536.5) rotate(-45)" font-size="7.8" fill="#1c1c1c" text-anchor="end" stroke="#1c1c1c" stroke-width="0.13" >1.25</text>
<line x1="122.75" y1="527.2" x2="122.75" y2="530.6" stroke="#2a2a2a" stroke-width="1" />
<text transform="translate(125.35,536.5) rotate(-45)" font-size="7.8" fill="#1c1c1c" text-anchor="end" stroke="#1c1c1c" stroke-width="0.13" >2.5</text>
<line x1="137" y1="527.2" x2="137" y2="530.6" stroke="#2a2a2a" stroke-width="1" />
<text transform="translate(139.6,536.5) rotate(-45)" font-size="7.8" fill="#1c1c1c" text-anchor="end" stroke="#1c1c1c" stroke-width="0.13" >5</text>
<line x1="122.75" y1="515.56" x2="122.75" y2="510.36" stroke="#3a3a3a" stroke-width="1" />
<line x1="120.55" y1="510.36" x2="124.95" y2="510.36" stroke="#3a3a3a" stroke-width="1.1" />
<line x1="137" y1="504.64" x2="137" y2="493.72" stroke="#3a3a3a" stroke-width="1" />
<line x1="134.8" y1="493.72" x2="139.2" y2="493.72" stroke="#3a3a3a" stroke-width="1.1" />
<line x1="94.25" y1="523.05" x2="94.25" y2="519.72" stroke="#3a3a3a" stroke-width="1" />
<line x1="92.05" y1="519.72" x2="96.45" y2="519.72" stroke="#3a3a3a" stroke-width="1.1" />
<line x1="108.5" y1="518.16" x2="108.5" y2="513.48" stroke="#3a3a3a" stroke-width="1" />
<line x1="106.3" y1="513.48" x2="110.7" y2="513.48" stroke="#3a3a3a" stroke-width="1.1" />
<line x1="122.75" y1="502.04" x2="122.75" y2="482.8" stroke="#3a3a3a" stroke-width="1" />
<line x1="120.55" y1="482.8" x2="124.95" y2="482.8" stroke="#3a3a3a" stroke-width="1.1" />
<line x1="137" y1="486.96" x2="137" y2="463.56" stroke="#3a3a3a" stroke-width="1" />
<line x1="134.8" y1="463.56" x2="139.2" y2="463.56" stroke="#3a3a3a" stroke-width="1.1" />
<polyline points="65.75,526.69 80,526.48 94.25,525.44 108.5,522.32 122.75,515.56 137,504.64" fill="none" stroke="#176A84" stroke-width="1.3" stroke-linejoin="round" />
<circle cx="65.75" cy="526.69" r="2.1" fill="#176A84"/>
<circle cx="80" cy="526.48" r="2.1" fill="#176A84"/>
<circle cx="94.25" cy="525.44" r="2.1" fill="#176A84"/>
<circle cx="108.5" cy="522.32" r="2.1" fill="#176A84"/>
<circle cx="122.75" cy="515.56" r="2.1" fill="#176A84"/>
<circle cx="137" cy="504.64" r="2.1" fill="#176A84"/>
<polyline points="65.75,526.48 80,525.96 94.25,523.05 108.5,518.16 122.75,502.04 137,486.96" fill="none" stroke="#E11A47" stroke-width="1.3" stroke-linejoin="round" />
<circle cx="65.75" cy="526.48" r="2.1" fill="#E11A47"/>
<circle cx="80" cy="525.96" r="2.1" fill="#E11A47"/>
<circle cx="94.25" cy="523.05" r="2.1" fill="#E11A47"/>
<circle cx="108.5" cy="518.16" r="2.1" fill="#E11A47"/>
<circle cx="122.75" cy="502.04" r="2.1" fill="#E11A47"/>
<circle cx="137" cy="486.96" r="2.1" fill="#E11A47"/>
<text transform="translate(65.75,525.95) scale(0.88,1)" font-size="8" fill="#1c1c1c" text-anchor="middle" font-style="italic" stroke="#1c1c1c" stroke-width="0.1" >n.s.</text>
<text transform="translate(80,520.2) scale(0.88,1)" font-size="8" fill="#1c1c1c" text-anchor="middle" font-style="italic" stroke="#1c1c1c" stroke-width="0.1" >n.s.</text>
<text transform="translate(94.25,515.95) scale(0.88,1)" font-size="8" fill="#1c1c1c" text-anchor="middle" font-style="italic" stroke="#1c1c1c" stroke-width="0.1" >n.s.</text>
<text transform="translate(108.5,515)" font-size="8.4" fill="#1c1c1c" text-anchor="middle" stroke="#1c1c1c" stroke-width="0.3" >*</text>
<text transform="translate(122.75,482.75)" font-size="8.4" fill="#1c1c1c" text-anchor="middle" stroke="#1c1c1c" stroke-width="0.3" >*</text>
<text transform="translate(137,463.25)" font-size="8.4" fill="#1c1c1c" text-anchor="middle" stroke="#1c1c1c" stroke-width="0.3" >**</text>
<text transform="translate(28.6,481.2) rotate(-90) scale(0.82,1)" font-size="9.5" fill="#1c1c1c" text-anchor="middle" stroke="#1c1c1c" stroke-width="0.13" >STAT3 pY705 ΔMFI</text>
<text transform="translate(103,562.5) scale(0.8,1)" font-size="10" fill="#1c1c1c" text-anchor="middle" stroke="#1c1c1c" stroke-width="0.13" >rhCD19 (μg/ml)</text>
<line x1="215.75" y1="435" x2="215.75" y2="527.8" stroke="#2a2a2a" stroke-width="1.3" />
<line x1="215.15" y1="527.2" x2="305.8" y2="527.2" stroke="#2a2a2a" stroke-width="1.3" />
<line x1="212.75" y1="527" x2="215.75" y2="527" stroke="#2a2a2a" stroke-width="1.1" />
<text transform="translate(209.15,529.9) scale(0.95,1)" font-size="8.2" fill="#1c1c1c" text-anchor="end" stroke="#1c1c1c" stroke-width="0.13" >0</text>
<line x1="212.75" y1="510.35" x2="215.75" y2="510.35" stroke="#2a2a2a" stroke-width="1.1" />
<text transform="translate(209.15,513.25) scale(0.95,1)" font-size="8.2" fill="#1c1c1c" text-anchor="end" stroke="#1c1c1c" stroke-width="0.13" >200</text>
<line x1="212.75" y1="493.7" x2="215.75" y2="493.7" stroke="#2a2a2a" stroke-width="1.1" />
<text transform="translate(209.15,496.6) scale(0.95,1)" font-size="8.2" fill="#1c1c1c" text-anchor="end" stroke="#1c1c1c" stroke-width="0.13" >400</text>
<line x1="212.75" y1="477.05" x2="215.75" y2="477.05" stroke="#2a2a2a" stroke-width="1.1" />
<text transform="translate(209.15,479.95) scale(0.95,1)" font-size="8.2" fill="#1c1c1c" text-anchor="end" stroke="#1c1c1c" stroke-width="0.13" >600</text>
<line x1="212.75" y1="460.4" x2="215.75" y2="460.4" stroke="#2a2a2a" stroke-width="1.1" />
<text transform="translate(209.15,463.3) scale(0.95,1)" font-size="8.2" fill="#1c1c1c" text-anchor="end" stroke="#1c1c1c" stroke-width="0.13" >800</text>
<line x1="212.75" y1="443.75" x2="215.75" y2="443.75" stroke="#2a2a2a" stroke-width="1.1" />
<text transform="translate(209.15,446.65) scale(0.95,1)" font-size="8.2" fill="#1c1c1c" text-anchor="end" stroke="#1c1c1c" stroke-width="0.13" >1000</text>
<line x1="222.5" y1="527.2" x2="222.5" y2="530.6" stroke="#2a2a2a" stroke-width="1" />
<text transform="translate(225.1,536.5) rotate(-45)" font-size="7.8" fill="#1c1c1c" text-anchor="end" stroke="#1c1c1c" stroke-width="0.13" >0</text>
<line x1="236.8" y1="527.2" x2="236.8" y2="530.6" stroke="#2a2a2a" stroke-width="1" />
<text transform="translate(239.4,536.5) rotate(-45)" font-size="7.8" fill="#1c1c1c" text-anchor="end" stroke="#1c1c1c" stroke-width="0.13" >0.313</text>
<line x1="251.1" y1="527.2" x2="251.1" y2="530.6" stroke="#2a2a2a" stroke-width="1" />
<text transform="translate(253.7,536.5) rotate(-45)" font-size="7.8" fill="#1c1c1c" text-anchor="end" stroke="#1c1c1c" stroke-width="0.13" >0.625</text>
<line x1="265.4" y1="527.2" x2="265.4" y2="530.6" stroke="#2a2a2a" stroke-width="1" />
<text transform="translate(268,536.5) rotate(-45)" font-size="7.8" fill="#1c1c1c" text-anchor="end" stroke="#1c1c1c" stroke-width="0.13" >1.25</text>
<line x1="279.7" y1="527.2" x2="279.7" y2="530.6" stroke="#2a2a2a" stroke-width="1" />
<text transform="translate(282.3,536.5) rotate(-45)" font-size="7.8" fill="#1c1c1c" text-anchor="end" stroke="#1c1c1c" stroke-width="0.13" >2.5</text>
<line x1="294" y1="527.2" x2="294" y2="530.6" stroke="#2a2a2a" stroke-width="1" />
<text transform="translate(296.6,536.5) rotate(-45)" font-size="7.8" fill="#1c1c1c" text-anchor="end" stroke="#1c1c1c" stroke-width="0.13" >5</text>
<line x1="251.1" y1="521.59" x2="251.1" y2="518.26" stroke="#3a3a3a" stroke-width="1" />
<line x1="248.9" y1="518.26" x2="253.3" y2="518.26" stroke="#3a3a3a" stroke-width="1.1" />
<line x1="265.4" y1="517.43" x2="265.4" y2="512.43" stroke="#3a3a3a" stroke-width="1" />
<line x1="263.2" y1="512.43" x2="267.6" y2="512.43" stroke="#3a3a3a" stroke-width="1.1" />
<line x1="279.7" y1="502.44" x2="279.7" y2="484.54" stroke="#3a3a3a" stroke-width="1" />
<line x1="277.5" y1="484.54" x2="281.9" y2="484.54" stroke="#3a3a3a" stroke-width="1.1" />
<line x1="294" y1="483.71" x2="294" y2="458.32" stroke="#3a3a3a" stroke-width="1" />
<line x1="291.8" y1="458.32" x2="296.2" y2="458.32" stroke="#3a3a3a" stroke-width="1.1" />
<polyline points="222.5,526.58 236.8,525.75 251.1,524.5 265.4,520.34 279.7,510.77 294,496.2" fill="none" stroke="#176A84" stroke-width="1.3" stroke-linejoin="round" />
<circle cx="222.5" cy="526.58" r="2.1" fill="#176A84"/>
<circle cx="236.8" cy="525.75" r="2.1" fill="#176A84"/>
<circle cx="251.1" cy="524.5" r="2.1" fill="#176A84"/>
<circle cx="265.4" cy="520.34" r="2.1" fill="#176A84"/>
<circle cx="279.7" cy="510.77" r="2.1" fill="#176A84"/>
<circle cx="294" cy="496.2" r="2.1" fill="#176A84"/>
<polyline points="222.5,526.17 236.8,525.34 251.1,521.59 265.4,517.43 279.7,502.44 294,483.71" fill="none" stroke="#E11A47" stroke-width="1.3" stroke-linejoin="round" />
<circle cx="222.5" cy="526.17" r="2.1" fill="#E11A47"/>
<circle cx="236.8" cy="525.34" r="2.1" fill="#E11A47"/>
<circle cx="251.1" cy="521.59" r="2.1" fill="#E11A47"/>
<circle cx="265.4" cy="517.43" r="2.1" fill="#E11A47"/>
<circle cx="279.7" cy="502.44" r="2.1" fill="#E11A47"/>
<circle cx="294" cy="483.71" r="2.1" fill="#E11A47"/>
<text transform="translate(222.5,525.25)" font-size="8.4" fill="#1c1c1c" text-anchor="middle" stroke="#1c1c1c" stroke-width="0.3" >**</text>
<text transform="translate(236.8,520.2) scale(0.88,1)" font-size="8" fill="#1c1c1c" text-anchor="middle" font-style="italic" stroke="#1c1c1c" stroke-width="0.1" >n.s.</text>
<text transform="translate(251.1,512.95) scale(0.88,1)" font-size="8" fill="#1c1c1c" text-anchor="middle" font-style="italic" stroke="#1c1c1c" stroke-width="0.1" >n.s.</text>
<text transform="translate(265.4,506.7) scale(0.88,1)" font-size="8" fill="#1c1c1c" text-anchor="middle" font-style="italic" stroke="#1c1c1c" stroke-width="0.1" >n.s.</text>
<text transform="translate(279.7,480.95) scale(0.88,1)" font-size="8" fill="#1c1c1c" text-anchor="middle" font-style="italic" stroke="#1c1c1c" stroke-width="0.1" >n.s.</text>
<text transform="translate(294,454.2) scale(0.88,1)" font-size="8" fill="#1c1c1c" text-anchor="middle" font-style="italic" stroke="#1c1c1c" stroke-width="0.1" >n.s.</text>
<text transform="translate(186.2,481) rotate(-90) scale(0.82,1)" font-size="9.5" fill="#1c1c1c" text-anchor="middle" stroke="#1c1c1c" stroke-width="0.13" >STAT5 pY694 ΔMFI</text>
<text transform="translate(260,562.5) scale(0.8,1)" font-size="10" fill="#1c1c1c" text-anchor="middle" stroke="#1c1c1c" stroke-width="0.13" >rhCD19 (μg/ml)</text>
<line x1="58.3" y1="580.5" x2="58.3" y2="672.6" stroke="#2a2a2a" stroke-width="1.3" />
<line x1="57.7" y1="672" x2="148.75" y2="672" stroke="#2a2a2a" stroke-width="1.3" />
<line x1="55.3" y1="672" x2="58.3" y2="672" stroke="#2a2a2a" stroke-width="1.1" />
<text transform="translate(48,674.7) scale(0.85,1)" font-size="8" fill="#1c1c1c" text-anchor="end" stroke="#1c1c1c" stroke-width="0.13" >10</text>
<text transform="translate(49.6,672.1) scale(0.85,1)" font-size="4.9" fill="#1c1c1c" stroke="#1c1c1c" stroke-width="0.12" >0</text>
<line x1="55.3" y1="651" x2="58.3" y2="651" stroke="#2a2a2a" stroke-width="1.1" />
<text transform="translate(48,653.7) scale(0.85,1)" font-size="8" fill="#1c1c1c" text-anchor="end" stroke="#1c1c1c" stroke-width="0.13" >10</text>
<text transform="translate(49.6,651.1) scale(0.85,1)" font-size="4.9" fill="#1c1c1c" stroke="#1c1c1c" stroke-width="0.12" >1</text>
<line x1="55.3" y1="630" x2="58.3" y2="630" stroke="#2a2a2a" stroke-width="1.1" />
<text transform="translate(48,632.7) scale(0.85,1)" font-size="8" fill="#1c1c1c" text-anchor="end" stroke="#1c1c1c" stroke-width="0.13" >10</text>
<text transform="translate(49.6,630.1) scale(0.85,1)" font-size="4.9" fill="#1c1c1c" stroke="#1c1c1c" stroke-width="0.12" >2</text>
<line x1="55.3" y1="609" x2="58.3" y2="609" stroke="#2a2a2a" stroke-width="1.1" />
<text transform="translate(48,611.7) scale(0.85,1)" font-size="8" fill="#1c1c1c" text-anchor="end" stroke="#1c1c1c" stroke-width="0.13" >10</text>
<text transform="translate(49.6,609.1) scale(0.85,1)" font-size="4.9" fill="#1c1c1c" stroke="#1c1c1c" stroke-width="0.12" >3</text>
<line x1="55.3" y1="588" x2="58.3" y2="588" stroke="#2a2a2a" stroke-width="1.1" />
<text transform="translate(48,590.7) scale(0.85,1)" font-size="8" fill="#1c1c1c" text-anchor="end" stroke="#1c1c1c" stroke-width="0.13" >10</text>
<text transform="translate(49.6,588.1) scale(0.85,1)" font-size="4.9" fill="#1c1c1c" stroke="#1c1c1c" stroke-width="0.12" >4</text>
<line x1="72.6" y1="672" x2="72.6" y2="675" stroke="#2a2a2a" stroke-width="1" />
<text transform="translate(72.6,684.8) scale(0.88,1)" font-size="8.6" fill="#1c1c1c" text-anchor="middle" stroke="#1c1c1c" stroke-width="0.13" >1.25</text>
<path d="M66.1,583.6 V581.5 H79.1 V583.6" fill="none" stroke="#2a2a2a" stroke-width="1.15" />
<text transform="translate(72.6,581.3)" font-size="8.4" fill="#1c1c1c" text-anchor="middle" stroke="#1c1c1c" stroke-width="0.3" >***</text>
<line x1="66.4" y1="601.4" x2="78.8" y2="609" stroke="#151515" stroke-width="1.1" />
<line x1="66.4" y1="608.13" x2="78.8" y2="625.16" stroke="#151515" stroke-width="1.1" />
<line x1="66.4" y1="609.96" x2="78.8" y2="626.3" stroke="#151515" stroke-width="1.1" />
<line x1="66.4" y1="611.62" x2="78.8" y2="628.34" stroke="#151515" stroke-width="1.1" />
<line x1="66.4" y1="618.57" x2="78.8" y2="640.39" stroke="#151515" stroke-width="1.1" />
<circle cx="78.8" cy="609" r="2.05" fill="#176A84"/>
<circle cx="78.8" cy="625.16" r="2.05" fill="#176A84"/>
<circle cx="78.8" cy="626.3" r="2.05" fill="#176A84"/>
<circle cx="78.8" cy="628.34" r="2.05" fill="#176A84"/>
<circle cx="78.8" cy="640.39" r="2.05" fill="#176A84"/>
<circle cx="66.4" cy="601.4" r="2.05" fill="#E11A47"/>
<circle cx="66.4" cy="608.13" r="2.05" fill="#E11A47"/>
<circle cx="66.4" cy="609.96" r="2.05" fill="#E11A47"/>
<circle cx="66.4" cy="611.62" r="2.05" fill="#E11A47"/>
<circle cx="66.4" cy="618.57" r="2.05" fill="#E11A47"/>
<line x1="104.9" y1="672" x2="104.9" y2="675" stroke="#2a2a2a" stroke-width="1" />
<text transform="translate(104.9,684.8) scale(0.88,1)" font-size="8.6" fill="#1c1c1c" text-anchor="middle" stroke="#1c1c1c" stroke-width="0.13" >2.5</text>
<path d="M98.4,583.6 V581.5 H111.4 V583.6" fill="none" stroke="#2a2a2a" stroke-width="1.15" />
<text transform="translate(104.9,581.3)" font-size="8.4" fill="#1c1c1c" text-anchor="middle" stroke="#1c1c1c" stroke-width="0.3" >***</text>
<line x1="98.7" y1="596.36" x2="111.1" y2="604.71" stroke="#151515" stroke-width="1.1" />
<line x1="98.7" y1="598.39" x2="111.1" y2="612.25" stroke="#151515" stroke-width="1.1" />
<line x1="98.7" y1="600.64" x2="111.1" y2="613.66" stroke="#151515" stroke-width="1.1" />
<line x1="98.7" y1="603.64" x2="111.1" y2="614.45" stroke="#151515" stroke-width="1.1" />
<line x1="98.7" y1="604.71" x2="111.1" y2="621.64" stroke="#151515" stroke-width="1.1" />
<circle cx="111.1" cy="604.71" r="2.05" fill="#176A84"/>
<circle cx="111.1" cy="612.25" r="2.05" fill="#176A84"/>
<circle cx="111.1" cy="613.66" r="2.05" fill="#176A84"/>
<circle cx="111.1" cy="614.45" r="2.05" fill="#176A84"/>
<circle cx="111.1" cy="621.64" r="2.05" fill="#176A84"/>
<circle cx="98.7" cy="596.36" r="2.05" fill="#E11A47"/>
<circle cx="98.7" cy="598.39" r="2.05" fill="#E11A47"/>
<circle cx="98.7" cy="600.64" r="2.05" fill="#E11A47"/>
<circle cx="98.7" cy="603.64" r="2.05" fill="#E11A47"/>
<circle cx="98.7" cy="604.71" r="2.05" fill="#E11A47"/>
<line x1="136.9" y1="672" x2="136.9" y2="675" stroke="#2a2a2a" stroke-width="1" />
<text transform="translate(136.9,684.8) scale(0.88,1)" font-size="8.6" fill="#1c1c1c" text-anchor="middle" stroke="#1c1c1c" stroke-width="0.13" >5</text>
<path d="M130.4,583.6 V581.5 H143.4 V583.6" fill="none" stroke="#2a2a2a" stroke-width="1.15" />
<text transform="translate(136.9,581.3)" font-size="8.4" fill="#1c1c1c" text-anchor="middle" stroke="#1c1c1c" stroke-width="0.3" >**</text>
<line x1="130.7" y1="592.66" x2="143.1" y2="597.57" stroke="#151515" stroke-width="1.1" />
<line x1="130.7" y1="594.32" x2="143.1" y2="605.93" stroke="#151515" stroke-width="1.1" />
<line x1="130.7" y1="596.36" x2="143.1" y2="608.13" stroke="#151515" stroke-width="1.1" />
<line x1="130.7" y1="600.64" x2="143.1" y2="612.25" stroke="#151515" stroke-width="1.1" />
<circle cx="143.1" cy="597.57" r="2.05" fill="#176A84"/>
<circle cx="143.1" cy="605.93" r="2.05" fill="#176A84"/>
<circle cx="143.1" cy="608.13" r="2.05" fill="#176A84"/>
<circle cx="143.1" cy="612.25" r="2.05" fill="#176A84"/>
<circle cx="130.7" cy="592.66" r="2.05" fill="#E11A47"/>
<circle cx="130.7" cy="594.32" r="2.05" fill="#E11A47"/>
<circle cx="130.7" cy="596.36" r="2.05" fill="#E11A47"/>
<circle cx="130.7" cy="600.64" r="2.05" fill="#E11A47"/>
<text transform="translate(33.5,626.9) rotate(-90) scale(0.82,1)" font-size="9.5" fill="#1c1c1c" text-anchor="middle" stroke="#1c1c1c" stroke-width="0.13" >IFNγ (pg/ml)</text>
<text transform="translate(104.5,696) scale(0.8,1)" font-size="10" fill="#1c1c1c" text-anchor="middle" stroke="#1c1c1c" stroke-width="0.13" >rhCD19 (μg/ml)</text>
<line x1="215.6" y1="580.5" x2="215.6" y2="672.3" stroke="#2a2a2a" stroke-width="1.3" />
<line x1="215" y1="671.7" x2="305.5" y2="671.7" stroke="#2a2a2a" stroke-width="1.3" />
<line x1="212.6" y1="671.7" x2="215.6" y2="671.7" stroke="#2a2a2a" stroke-width="1.1" />
<text transform="translate(205.3,674.4) scale(0.85,1)" font-size="8" fill="#1c1c1c" text-anchor="end" stroke="#1c1c1c" stroke-width="0.13" >10</text>
<text transform="translate(206.9,671.8) scale(0.85,1)" font-size="4.9" fill="#1c1c1c" stroke="#1c1c1c" stroke-width="0.12" >0</text>
<line x1="212.6" y1="650.8" x2="215.6" y2="650.8" stroke="#2a2a2a" stroke-width="1.1" />
<text transform="translate(205.3,653.5) scale(0.85,1)" font-size="8" fill="#1c1c1c" text-anchor="end" stroke="#1c1c1c" stroke-width="0.13" >10</text>
<text transform="translate(206.9,650.9) scale(0.85,1)" font-size="4.9" fill="#1c1c1c" stroke="#1c1c1c" stroke-width="0.12" >1</text>
<line x1="212.6" y1="629.9" x2="215.6" y2="629.9" stroke="#2a2a2a" stroke-width="1.1" />
<text transform="translate(205.3,632.6) scale(0.85,1)" font-size="8" fill="#1c1c1c" text-anchor="end" stroke="#1c1c1c" stroke-width="0.13" >10</text>
<text transform="translate(206.9,630) scale(0.85,1)" font-size="4.9" fill="#1c1c1c" stroke="#1c1c1c" stroke-width="0.12" >2</text>
<line x1="212.6" y1="609" x2="215.6" y2="609" stroke="#2a2a2a" stroke-width="1.1" />
<text transform="translate(205.3,611.7) scale(0.85,1)" font-size="8" fill="#1c1c1c" text-anchor="end" stroke="#1c1c1c" stroke-width="0.13" >10</text>
<text transform="translate(206.9,609.1) scale(0.85,1)" font-size="4.9" fill="#1c1c1c" stroke="#1c1c1c" stroke-width="0.12" >3</text>
<line x1="212.6" y1="588.1" x2="215.6" y2="588.1" stroke="#2a2a2a" stroke-width="1.1" />
<text transform="translate(205.3,590.8) scale(0.85,1)" font-size="8" fill="#1c1c1c" text-anchor="end" stroke="#1c1c1c" stroke-width="0.13" >10</text>
<text transform="translate(206.9,588.2) scale(0.85,1)" font-size="4.9" fill="#1c1c1c" stroke="#1c1c1c" stroke-width="0.12" >4</text>
<line x1="230" y1="671.7" x2="230" y2="674.7" stroke="#2a2a2a" stroke-width="1" />
<text transform="translate(230,684.5) scale(0.88,1)" font-size="8.6" fill="#1c1c1c" text-anchor="middle" stroke="#1c1c1c" stroke-width="0.13" >1.25</text>
<path d="M223.7,583.6 V581.5 H236.3 V583.6" fill="none" stroke="#2a2a2a" stroke-width="1.15" />
<text transform="translate(230,581.3)" font-size="8.4" fill="#1c1c1c" text-anchor="middle" stroke="#1c1c1c" stroke-width="0.3" >**</text>
<line x1="224" y1="608.13" x2="236" y2="617.32" stroke="#151515" stroke-width="1.1" />
<line x1="224" y1="609.96" x2="236" y2="619.93" stroke="#151515" stroke-width="1.1" />
<line x1="224" y1="612.24" x2="236" y2="623.61" stroke="#151515" stroke-width="1.1" />
<line x1="224" y1="613.64" x2="236" y2="626.22" stroke="#151515" stroke-width="1.1" />
<line x1="224" y1="615.29" x2="236" y2="626.22" stroke="#151515" stroke-width="1.1" />
<line x1="224" y1="617.32" x2="236" y2="630.86" stroke="#151515" stroke-width="1.1" />
<circle cx="236" cy="617.32" r="2.05" fill="#176A84"/>
<circle cx="236" cy="619.93" r="2.05" fill="#176A84"/>
<circle cx="236" cy="623.61" r="2.05" fill="#176A84"/>
<circle cx="236" cy="626.22" r="2.05" fill="#176A84"/>
<circle cx="236" cy="626.22" r="2.05" fill="#176A84"/>
<circle cx="236" cy="630.86" r="2.05" fill="#176A84"/>
<circle cx="224" cy="608.13" r="2.05" fill="#E11A47"/>
<circle cx="224" cy="609.96" r="2.05" fill="#E11A47"/>
<circle cx="224" cy="612.24" r="2.05" fill="#E11A47"/>
<circle cx="224" cy="613.64" r="2.05" fill="#E11A47"/>
<circle cx="224" cy="615.29" r="2.05" fill="#E11A47"/>
<circle cx="224" cy="617.32" r="2.05" fill="#E11A47"/>
<line x1="262.5" y1="671.7" x2="262.5" y2="674.7" stroke="#2a2a2a" stroke-width="1" />
<text transform="translate(262.5,684.5) scale(0.88,1)" font-size="8.6" fill="#1c1c1c" text-anchor="middle" stroke="#1c1c1c" stroke-width="0.13" >2.5</text>
<path d="M256.2,583.6 V581.5 H268.8 V583.6" fill="none" stroke="#2a2a2a" stroke-width="1.15" />
<text transform="translate(262.5,581.3)" font-size="8.4" fill="#1c1c1c" text-anchor="middle" stroke="#1c1c1c" stroke-width="0.3" >**</text>
<line x1="256.5" y1="601.84" x2="268.5" y2="604.18" stroke="#151515" stroke-width="1.1" />
<line x1="256.5" y1="603.66" x2="268.5" y2="608.13" stroke="#151515" stroke-width="1.1" />
<line x1="256.5" y1="605.32" x2="268.5" y2="609.96" stroke="#151515" stroke-width="1.1" />
<line x1="256.5" y1="607.35" x2="268.5" y2="612.24" stroke="#151515" stroke-width="1.1" />
<line x1="256.5" y1="609" x2="268.5" y2="614.43" stroke="#151515" stroke-width="1.1" />
<line x1="256.5" y1="610.48" x2="268.5" y2="614.43" stroke="#151515" stroke-width="1.1" />
<circle cx="268.5" cy="604.18" r="2.05" fill="#176A84"/>
<circle cx="268.5" cy="608.13" r="2.05" fill="#176A84"/>
<circle cx="268.5" cy="609.96" r="2.05" fill="#176A84"/>
<circle cx="268.5" cy="612.24" r="2.05" fill="#176A84"/>
<circle cx="268.5" cy="614.43" r="2.05" fill="#176A84"/>
<circle cx="268.5" cy="614.43" r="2.05" fill="#176A84"/>
<circle cx="256.5" cy="601.84" r="2.05" fill="#E11A47"/>
<circle cx="256.5" cy="603.66" r="2.05" fill="#E11A47"/>
<circle cx="256.5" cy="605.32" r="2.05" fill="#E11A47"/>
<circle cx="256.5" cy="607.35" r="2.05" fill="#E11A47"/>
<circle cx="256.5" cy="609" r="2.05" fill="#E11A47"/>
<circle cx="256.5" cy="610.48" r="2.05" fill="#E11A47"/>
<line x1="294.8" y1="671.7" x2="294.8" y2="674.7" stroke="#2a2a2a" stroke-width="1" />
<text transform="translate(294.8,684.5) scale(0.88,1)" font-size="8.6" fill="#1c1c1c" text-anchor="middle" stroke="#1c1c1c" stroke-width="0.13" >5</text>
<path d="M288.5,583.6 V581.5 H301.1 V583.6" fill="none" stroke="#2a2a2a" stroke-width="1.15" />
<text transform="translate(294.8,581.3)" font-size="8.4" fill="#1c1c1c" text-anchor="middle" stroke="#1c1c1c" stroke-width="0.3" >**</text>
<line x1="288.8" y1="599.98" x2="300.8" y2="601.44" stroke="#151515" stroke-width="1.1" />
<line x1="288.8" y1="601.84" x2="300.8" y2="603.66" stroke="#151515" stroke-width="1.1" />
<line x1="288.8" y1="603.66" x2="300.8" y2="605.95" stroke="#151515" stroke-width="1.1" />
<line x1="288.8" y1="604.73" x2="300.8" y2="609" stroke="#151515" stroke-width="1.1" />
<line x1="288.8" y1="606.62" x2="300.8" y2="611.03" stroke="#151515" stroke-width="1.1" />
<circle cx="300.8" cy="601.44" r="2.05" fill="#176A84"/>
<circle cx="300.8" cy="603.66" r="2.05" fill="#176A84"/>
<circle cx="300.8" cy="605.95" r="2.05" fill="#176A84"/>
<circle cx="300.8" cy="609" r="2.05" fill="#176A84"/>
<circle cx="300.8" cy="611.03" r="2.05" fill="#176A84"/>
<circle cx="288.8" cy="599.98" r="2.05" fill="#E11A47"/>
<circle cx="288.8" cy="601.84" r="2.05" fill="#E11A47"/>
<circle cx="288.8" cy="603.66" r="2.05" fill="#E11A47"/>
<circle cx="288.8" cy="604.73" r="2.05" fill="#E11A47"/>
<circle cx="288.8" cy="606.62" r="2.05" fill="#E11A47"/>
<text transform="translate(192,626.5) rotate(-90) scale(0.82,1)" font-size="9.5" fill="#1c1c1c" text-anchor="middle" stroke="#1c1c1c" stroke-width="0.13" >TNFα (pg/ml)</text>
<text transform="translate(261.25,696) scale(0.8,1)" font-size="10" fill="#1c1c1c" text-anchor="middle" stroke="#1c1c1c" stroke-width="0.13" >rhCD19 (μg/ml)</text>
<line x1="365.4" y1="580.5" x2="365.4" y2="672.3" stroke="#2a2a2a" stroke-width="1.3" />
<line x1="364.8" y1="671.7" x2="455.5" y2="671.7" stroke="#2a2a2a" stroke-width="1.3" />
<line x1="362.4" y1="671.7" x2="365.4" y2="671.7" stroke="#2a2a2a" stroke-width="1.1" />
<text transform="translate(355.1,674.4) scale(0.85,1)" font-size="8" fill="#1c1c1c" text-anchor="end" stroke="#1c1c1c" stroke-width="0.13" >10</text>
<text transform="translate(356.7,671.8) scale(0.85,1)" font-size="4.9" fill="#1c1c1c" stroke="#1c1c1c" stroke-width="0.12" >0</text>
<line x1="362.4" y1="650.8" x2="365.4" y2="650.8" stroke="#2a2a2a" stroke-width="1.1" />
<text transform="translate(355.1,653.5) scale(0.85,1)" font-size="8" fill="#1c1c1c" text-anchor="end" stroke="#1c1c1c" stroke-width="0.13" >10</text>
<text transform="translate(356.7,650.9) scale(0.85,1)" font-size="4.9" fill="#1c1c1c" stroke="#1c1c1c" stroke-width="0.12" >1</text>
<line x1="362.4" y1="629.9" x2="365.4" y2="629.9" stroke="#2a2a2a" stroke-width="1.1" />
<text transform="translate(355.1,632.6) scale(0.85,1)" font-size="8" fill="#1c1c1c" text-anchor="end" stroke="#1c1c1c" stroke-width="0.13" >10</text>
<text transform="translate(356.7,630) scale(0.85,1)" font-size="4.9" fill="#1c1c1c" stroke="#1c1c1c" stroke-width="0.12" >2</text>
<line x1="362.4" y1="609" x2="365.4" y2="609" stroke="#2a2a2a" stroke-width="1.1" />
<text transform="translate(355.1,611.7) scale(0.85,1)" font-size="8" fill="#1c1c1c" text-anchor="end" stroke="#1c1c1c" stroke-width="0.13" >10</text>
<text transform="translate(356.7,609.1) scale(0.85,1)" font-size="4.9" fill="#1c1c1c" stroke="#1c1c1c" stroke-width="0.12" >3</text>
<line x1="362.4" y1="588.1" x2="365.4" y2="588.1" stroke="#2a2a2a" stroke-width="1.1" />
<text transform="translate(355.1,590.8) scale(0.85,1)" font-size="8" fill="#1c1c1c" text-anchor="end" stroke="#1c1c1c" stroke-width="0.13" >10</text>
<text transform="translate(356.7,588.2) scale(0.85,1)" font-size="4.9" fill="#1c1c1c" stroke="#1c1c1c" stroke-width="0.12" >4</text>
<line x1="379.4" y1="671.7" x2="379.4" y2="674.7" stroke="#2a2a2a" stroke-width="1" />
<text transform="translate(379.4,684.5) scale(0.88,1)" font-size="8.6" fill="#1c1c1c" text-anchor="middle" stroke="#1c1c1c" stroke-width="0.13" >1.25</text>
<path d="M373.1,583.6 V581.5 H385.7 V583.6" fill="none" stroke="#2a2a2a" stroke-width="1.15" />
<text transform="translate(379.4,581.3)" font-size="8.4" fill="#1c1c1c" text-anchor="middle" stroke="#1c1c1c" stroke-width="0.3" >*</text>
<line x1="373.4" y1="605.32" x2="385.4" y2="612.91" stroke="#151515" stroke-width="1.1" />
<line x1="373.4" y1="611.03" x2="385.4" y2="617.32" stroke="#151515" stroke-width="1.1" />
<line x1="373.4" y1="613.64" x2="385.4" y2="625.08" stroke="#151515" stroke-width="1.1" />
<line x1="373.4" y1="616.25" x2="385.4" y2="626.85" stroke="#151515" stroke-width="1.1" />
<line x1="373.4" y1="618.53" x2="385.4" y2="631.93" stroke="#151515" stroke-width="1.1" />
<line x1="373.4" y1="619.93" x2="385.4" y2="641.45" stroke="#151515" stroke-width="1.1" />
<circle cx="385.4" cy="612.91" r="2.05" fill="#176A84"/>
<circle cx="385.4" cy="617.32" r="2.05" fill="#176A84"/>
<circle cx="385.4" cy="625.08" r="2.05" fill="#176A84"/>
<circle cx="385.4" cy="626.85" r="2.05" fill="#176A84"/>
<circle cx="385.4" cy="631.93" r="2.05" fill="#176A84"/>
<circle cx="385.4" cy="641.45" r="2.05" fill="#176A84"/>
<circle cx="373.4" cy="605.32" r="2.05" fill="#E11A47"/>
<circle cx="373.4" cy="611.03" r="2.05" fill="#E11A47"/>
<circle cx="373.4" cy="613.64" r="2.05" fill="#E11A47"/>
<circle cx="373.4" cy="616.25" r="2.05" fill="#E11A47"/>
<circle cx="373.4" cy="618.53" r="2.05" fill="#E11A47"/>
<circle cx="373.4" cy="619.93" r="2.05" fill="#E11A47"/>
<line x1="411.9" y1="671.7" x2="411.9" y2="674.7" stroke="#2a2a2a" stroke-width="1" />
<text transform="translate(411.9,684.5) scale(0.88,1)" font-size="8.6" fill="#1c1c1c" text-anchor="middle" stroke="#1c1c1c" stroke-width="0.13" >2.5</text>
<path d="M405.6,583.6 V581.5 H418.2 V583.6" fill="none" stroke="#2a2a2a" stroke-width="1.15" />
<text transform="translate(411.9,581.3)" font-size="8.4" fill="#1c1c1c" text-anchor="middle" stroke="#1c1c1c" stroke-width="0.3" >*</text>
<line x1="405.9" y1="594.39" x2="417.9" y2="595.35" stroke="#151515" stroke-width="1.1" />
<line x1="405.9" y1="596.42" x2="417.9" y2="600.68" stroke="#151515" stroke-width="1.1" />
<line x1="405.9" y1="599.03" x2="417.9" y2="603.66" stroke="#151515" stroke-width="1.1" />
<line x1="405.9" y1="602.71" x2="417.9" y2="605.32" stroke="#151515" stroke-width="1.1" />
<line x1="405.9" y1="605.32" x2="417.9" y2="610.48" stroke="#151515" stroke-width="1.1" />
<line x1="405.9" y1="606.62" x2="417.9" y2="612.24" stroke="#151515" stroke-width="1.1" />
<circle cx="417.9" cy="595.35" r="2.05" fill="#176A84"/>
<circle cx="417.9" cy="600.68" r="2.05" fill="#176A84"/>
<circle cx="417.9" cy="603.66" r="2.05" fill="#176A84"/>
<circle cx="417.9" cy="605.32" r="2.05" fill="#176A84"/>
<circle cx="417.9" cy="610.48" r="2.05" fill="#176A84"/>
<circle cx="417.9" cy="612.24" r="2.05" fill="#176A84"/>
<circle cx="405.9" cy="594.39" r="2.05" fill="#E11A47"/>
<circle cx="405.9" cy="596.42" r="2.05" fill="#E11A47"/>
<circle cx="405.9" cy="599.03" r="2.05" fill="#E11A47"/>
<circle cx="405.9" cy="602.71" r="2.05" fill="#E11A47"/>
<circle cx="405.9" cy="605.32" r="2.05" fill="#E11A47"/>
<circle cx="405.9" cy="606.62" r="2.05" fill="#E11A47"/>
<line x1="444" y1="671.7" x2="444" y2="674.7" stroke="#2a2a2a" stroke-width="1" />
<text transform="translate(444,684.5) scale(0.88,1)" font-size="8.6" fill="#1c1c1c" text-anchor="middle" stroke="#1c1c1c" stroke-width="0.13" >5</text>
<path d="M437.7,583.6 V581.5 H450.3 V583.6" fill="none" stroke="#2a2a2a" stroke-width="1.15" />
<text transform="translate(444,581.3)" font-size="8.4" fill="#1c1c1c" text-anchor="middle" stroke="#1c1c1c" stroke-width="0.3" >*</text>
<line x1="438" y1="590.13" x2="450" y2="593.53" stroke="#151515" stroke-width="1.1" />
<line x1="438" y1="592.74" x2="450" y2="595.35" stroke="#151515" stroke-width="1.1" />
<line x1="438" y1="594.39" x2="450" y2="602.71" stroke="#151515" stroke-width="1.1" />
<line x1="438" y1="601.44" x2="450" y2="602.71" stroke="#151515" stroke-width="1.1" />
<circle cx="450" cy="593.53" r="2.05" fill="#176A84"/>
<circle cx="450" cy="595.35" r="2.05" fill="#176A84"/>
<circle cx="450" cy="602.71" r="2.05" fill="#176A84"/>
<circle cx="450" cy="602.71" r="2.05" fill="#176A84"/>
<circle cx="438" cy="590.13" r="2.05" fill="#E11A47"/>
<circle cx="438" cy="592.74" r="2.05" fill="#E11A47"/>
<circle cx="438" cy="594.39" r="2.05" fill="#E11A47"/>
<circle cx="438" cy="601.44" r="2.05" fill="#E11A47"/>
<text transform="translate(342,627) rotate(-90) scale(0.82,1)" font-size="9.5" fill="#1c1c1c" text-anchor="middle" stroke="#1c1c1c" stroke-width="0.13" >IL-2 (pg/ml)</text>
<text transform="translate(411.5,696) scale(0.8,1)" font-size="10" fill="#1c1c1c" text-anchor="middle" stroke="#1c1c1c" stroke-width="0.13" >rhCD19 (μg/ml)</text>
<circle cx="477.6" cy="576.6" r="2" fill="#E11A47"/>
<text transform="translate(484,579.6) scale(1.02,1)" font-size="8.4" fill="#1c1c1c" stroke="#1c1c1c" stroke-width="0.15" >N1</text>
<circle cx="477.6" cy="586.9" r="2" fill="#176A84"/>
<text transform="translate(484,589.9) scale(1.02,1)" font-size="8.4" fill="#1c1c1c" stroke="#1c1c1c" stroke-width="0.15" >Control</text>
<line x1="41.05" y1="40.6" x2="41.05" y2="42.4" stroke="#222" stroke-width="0.85" />
<line x1="45.08" y1="40.6" x2="45.08" y2="42.4" stroke="#222" stroke-width="0.85" />
<line x1="48.37" y1="40.6" x2="48.37" y2="42.4" stroke="#222" stroke-width="0.85" />
<line x1="51.16" y1="40.6" x2="51.16" y2="42.4" stroke="#222" stroke-width="0.85" />
<line x1="53.57" y1="40.6" x2="53.57" y2="42.4" stroke="#222" stroke-width="0.85" />
<line x1="55.7" y1="40.6" x2="55.7" y2="42.4" stroke="#222" stroke-width="0.85" />
<line x1="57.6" y1="40.6" x2="57.6" y2="43.4" stroke="#222" stroke-width="0.85" />
<line x1="70.12" y1="40.6" x2="70.12" y2="42.4" stroke="#222" stroke-width="0.85" />
<line x1="77.45" y1="40.6" x2="77.45" y2="42.4" stroke="#222" stroke-width="0.85" />
<line x1="82.65" y1="40.6" x2="82.65" y2="42.4" stroke="#222" stroke-width="0.85" />
<line x1="86.68" y1="40.6" x2="86.68" y2="42.4" stroke="#222" stroke-width="0.85" />
<line x1="89.97" y1="40.6" x2="89.97" y2="42.4" stroke="#222" stroke-width="0.85" />
<line x1="92.76" y1="40.6" x2="92.76" y2="42.4" stroke="#222" stroke-width="0.85" />
<line x1="95.17" y1="40.6" x2="95.17" y2="42.4" stroke="#222" stroke-width="0.85" />
<line x1="97.3" y1="40.6" x2="97.3" y2="42.4" stroke="#222" stroke-width="0.85" />
<line x1="99.2" y1="40.6" x2="99.2" y2="43.4" stroke="#222" stroke-width="0.85" />
<line x1="111.72" y1="40.6" x2="111.72" y2="42.4" stroke="#222" stroke-width="0.85" />
<line x1="119.05" y1="40.6" x2="119.05" y2="42.4" stroke="#222" stroke-width="0.85" />
<line x1="124.25" y1="40.6" x2="124.25" y2="42.4" stroke="#222" stroke-width="0.85" />
<line x1="128.28" y1="40.6" x2="128.28" y2="42.4" stroke="#222" stroke-width="0.85" />
<line x1="131.57" y1="40.6" x2="131.57" y2="42.4" stroke="#222" stroke-width="0.85" />
<line x1="134.36" y1="40.6" x2="134.36" y2="42.4" stroke="#222" stroke-width="0.85" />
<line x1="136.77" y1="40.6" x2="136.77" y2="42.4" stroke="#222" stroke-width="0.85" />
<line x1="138.9" y1="40.6" x2="138.9" y2="42.4" stroke="#222" stroke-width="0.85" />
<line x1="140.8" y1="40.6" x2="140.8" y2="43.4" stroke="#222" stroke-width="0.85" />
<line x1="153.32" y1="40.6" x2="153.32" y2="42.4" stroke="#222" stroke-width="0.85" />
<rect x="35.9" y="8.8" width="124.2" height="31.8" fill="none" stroke="#333" stroke-width="1.2"/>
<line x1="41.05" y1="78.1" x2="41.05" y2="79.9" stroke="#222" stroke-width="0.85" />
<line x1="45.08" y1="78.1" x2="45.08" y2="79.9" stroke="#222" stroke-width="0.85" />
<line x1="48.37" y1="78.1" x2="48.37" y2="79.9" stroke="#222" stroke-width="0.85" />
<line x1="51.16" y1="78.1" x2="51.16" y2="79.9" stroke="#222" stroke-width="0.85" />
<line x1="53.57" y1="78.1" x2="53.57" y2="79.9" stroke="#222" stroke-width="0.85" />
<line x1="55.7" y1="78.1" x2="55.7" y2="79.9" stroke="#222" stroke-width="0.85" />
<line x1="57.6" y1="78.1" x2="57.6" y2="80.9" stroke="#222" stroke-width="0.85" />
<line x1="70.12" y1="78.1" x2="70.12" y2="79.9" stroke="#222" stroke-width="0.85" />
<line x1="77.45" y1="78.1" x2="77.45" y2="79.9" stroke="#222" stroke-width="0.85" />
<line x1="82.65" y1="78.1" x2="82.65" y2="79.9" stroke="#222" stroke-width="0.85" />
<line x1="86.68" y1="78.1" x2="86.68" y2="79.9" stroke="#222" stroke-width="0.85" />
<line x1="89.97" y1="78.1" x2="89.97" y2="79.9" stroke="#222" stroke-width="0.85" />
<line x1="92.76" y1="78.1" x2="92.76" y2="79.9" stroke="#222" stroke-width="0.85" />
<line x1="95.17" y1="78.1" x2="95.17" y2="79.9" stroke="#222" stroke-width="0.85" />
<line x1="97.3" y1="78.1" x2="97.3" y2="79.9" stroke="#222" stroke-width="0.85" />
<line x1="99.2" y1="78.1" x2="99.2" y2="80.9" stroke="#222" stroke-width="0.85" />
<line x1="111.72" y1="78.1" x2="111.72" y2="79.9" stroke="#222" stroke-width="0.85" />
<line x1="119.05" y1="78.1" x2="119.05" y2="79.9" stroke="#222" stroke-width="0.85" />
<line x1="124.25" y1="78.1" x2="124.25" y2="79.9" stroke="#222" stroke-width="0.85" />
<line x1="128.28" y1="78.1" x2="128.28" y2="79.9" stroke="#222" stroke-width="0.85" />
<line x1="131.57" y1="78.1" x2="131.57" y2="79.9" stroke="#222" stroke-width="0.85" />
<line x1="134.36" y1="78.1" x2="134.36" y2="79.9" stroke="#222" stroke-width="0.85" />
<line x1="136.77" y1="78.1" x2="136.77" y2="79.9" stroke="#222" stroke-width="0.85" />
<line x1="138.9" y1="78.1" x2="138.9" y2="79.9" stroke="#222" stroke-width="0.85" />
<line x1="140.8" y1="78.1" x2="140.8" y2="80.9" stroke="#222" stroke-width="0.85" />
<line x1="153.32" y1="78.1" x2="153.32" y2="79.9" stroke="#222" stroke-width="0.85" />
<rect x="35.9" y="46.6" width="124.2" height="31.5" fill="none" stroke="#333" stroke-width="1.2"/>
<line x1="41.05" y1="116.1" x2="41.05" y2="117.9" stroke="#222" stroke-width="0.85" />
<line x1="45.08" y1="116.1" x2="45.08" y2="117.9" stroke="#222" stroke-width="0.85" />
<line x1="48.37" y1="116.1" x2="48.37" y2="117.9" stroke="#222" stroke-width="0.85" />
<line x1="51.16" y1="116.1" x2="51.16" y2="117.9" stroke="#222" stroke-width="0.85" />
<line x1="53.57" y1="116.1" x2="53.57" y2="117.9" stroke="#222" stroke-width="0.85" />
<line x1="55.7" y1="116.1" x2="55.7" y2="117.9" stroke="#222" stroke-width="0.85" />
<line x1="57.6" y1="116.1" x2="57.6" y2="118.9" stroke="#222" stroke-width="0.85" />
<line x1="70.12" y1="116.1" x2="70.12" y2="117.9" stroke="#222" stroke-width="0.85" />
<line x1="77.45" y1="116.1" x2="77.45" y2="117.9" stroke="#222" stroke-width="0.85" />
<line x1="82.65" y1="116.1" x2="82.65" y2="117.9" stroke="#222" stroke-width="0.85" />
<line x1="86.68" y1="116.1" x2="86.68" y2="117.9" stroke="#222" stroke-width="0.85" />
<line x1="89.97" y1="116.1" x2="89.97" y2="117.9" stroke="#222" stroke-width="0.85" />
<line x1="92.76" y1="116.1" x2="92.76" y2="117.9" stroke="#222" stroke-width="0.85" />
<line x1="95.17" y1="116.1" x2="95.17" y2="117.9" stroke="#222" stroke-width="0.85" />
<line x1="97.3" y1="116.1" x2="97.3" y2="117.9" stroke="#222" stroke-width="0.85" />
<line x1="99.2" y1="116.1" x2="99.2" y2="118.9" stroke="#222" stroke-width="0.85" />
<line x1="111.72" y1="116.1" x2="111.72" y2="117.9" stroke="#222" stroke-width="0.85" />
<line x1="119.05" y1="116.1" x2="119.05" y2="117.9" stroke="#222" stroke-width="0.85" />
<line x1="124.25" y1="116.1" x2="124.25" y2="117.9" stroke="#222" stroke-width="0.85" />
<line x1="128.28" y1="116.1" x2="128.28" y2="117.9" stroke="#222" stroke-width="0.85" />
<line x1="131.57" y1="116.1" x2="131.57" y2="117.9" stroke="#222" stroke-width="0.85" />
<line x1="134.36" y1="116.1" x2="134.36" y2="117.9" stroke="#222" stroke-width="0.85" />
<line x1="136.77" y1="116.1" x2="136.77" y2="117.9" stroke="#222" stroke-width="0.85" />
<line x1="138.9" y1="116.1" x2="138.9" y2="117.9" stroke="#222" stroke-width="0.85" />
<line x1="140.8" y1="116.1" x2="140.8" y2="118.9" stroke="#222" stroke-width="0.85" />
<line x1="153.32" y1="116.1" x2="153.32" y2="117.9" stroke="#222" stroke-width="0.85" />
<rect x="35.9" y="84.6" width="124.2" height="31.5" fill="none" stroke="#333" stroke-width="1.2"/>
<path d="M116.5,40.2 C117.17,40.15 119.38,40.35 120.5,39.9 C121.62,39.45 122.37,39.23 123.2,37.5 C124.03,35.77 124.8,32.58 125.5,29.5 C126.2,26.42 126.78,21.82 127.4,19 C128.02,16.18 128.75,13.77 129.2,12.6 C129.65,11.43 129.78,11.97 130.1,12 C130.42,12.03 130.65,11.55 131.1,12.8 C131.55,14.05 132.23,16.88 132.8,19.5 C133.37,22.12 133.9,25.75 134.5,28.5 C135.1,31.25 135.68,34.17 136.4,36 C137.12,37.83 137.95,38.8 138.8,39.5 C139.65,40.2 141.05,40.08 141.5,40.2" fill="none" stroke="#176A84" stroke-width="1.15" />
<path d="M115,40.2 C115.67,40.15 117.83,40.35 119,39.9 C120.17,39.45 121.1,39.15 122,37.5 C122.9,35.85 123.68,32.92 124.4,30 C125.12,27.08 125.67,22.7 126.3,20 C126.93,17.3 127.7,15.05 128.2,13.8 C128.7,12.55 128.92,12.58 129.3,12.5 C129.68,12.42 130.05,12.13 130.5,13.3 C130.95,14.47 131.48,17.05 132,19.5 C132.52,21.95 133.03,25.33 133.6,28 C134.17,30.67 134.73,33.62 135.4,35.5 C136.07,37.38 136.75,38.52 137.6,39.3 C138.45,40.08 140.02,40.05 140.5,40.2" fill="none" stroke="#E11A47" stroke-width="1.15" stroke-opacity="0.9"/>
<path d="M61,77.8 C61.67,77.7 63.75,77.75 65,77.2 C66.25,76.65 67.17,75.83 68.5,74.5 C69.83,73.17 71.65,70.18 73,69.2 C74.35,68.22 75.52,69.05 76.6,68.6 C77.68,68.15 78.63,67.15 79.5,66.5 C80.37,65.85 80.97,64.7 81.8,64.7 C82.63,64.7 83.3,65.45 84.5,66.5 C85.7,67.55 87.6,70.42 89,71 C90.4,71.58 91.73,69.83 92.9,70 C94.07,70.17 94.75,71.22 96,72 C97.25,72.78 98.73,74.17 100.4,74.7 C102.07,75.23 104.2,75.13 106,75.2 C107.8,75.27 109.7,75.55 111.2,75.1 C112.7,74.65 113.62,73.7 115,72.5 C116.38,71.3 118.12,68.63 119.5,67.9 C120.88,67.17 122.13,68.7 123.3,68.1 C124.47,67.5 125.72,66.48 126.5,64.3 C127.28,62.12 127.48,57.58 128,55 C128.52,52.42 129.02,49.13 129.6,48.8 C130.18,48.47 130.77,50 131.5,53 C132.23,56 133.05,63.12 134,66.8 C134.95,70.48 136.28,73.32 137.2,75.1 C138.12,76.88 138.7,77.05 139.5,77.5 C140.3,77.95 141.58,77.75 142,77.8" fill="none" stroke="#176A84" stroke-width="1.15" />
<path d="M58,77.8 C58.5,77.72 60,77.8 61,77.3 C62,76.8 63.03,76.02 64,74.8 C64.97,73.58 65.88,71.72 66.8,70 C67.72,68.28 68.38,65.97 69.5,64.5 C70.62,63.03 72.42,61.5 73.5,61.2 C74.58,60.9 75.08,63.73 76,62.7 C76.92,61.67 77.97,57.25 79,55 C80.03,52.75 81.2,49.2 82.2,49.2 C83.2,49.2 84.03,52.28 85,55 C85.97,57.72 87.25,63.58 88,65.5 C88.75,67.42 88.68,66.85 89.5,66.5 C90.32,66.15 91.82,63.4 92.9,63.4 C93.98,63.4 95.07,64.98 96,66.5 C96.93,68.02 97.77,71.17 98.5,72.5 C99.23,73.83 99.45,74.22 100.4,74.5 C101.35,74.78 102.93,74.03 104.2,74.2 C105.47,74.37 106.62,75.03 108,75.5 C109.38,75.97 111.17,76.92 112.5,77 C113.83,77.08 114.83,76.47 116,76 C117.17,75.53 118.08,74.45 119.5,74.2 C120.92,73.95 123.17,75.2 124.5,74.5 C125.83,73.8 126.65,71.32 127.5,70 C128.35,68.68 128.93,66.68 129.6,66.6 C130.27,66.52 130.77,68.18 131.5,69.5 C132.23,70.82 133.25,73.33 134,74.5 C134.75,75.67 135.33,76 136,76.5 C136.67,77 137.17,77.28 138,77.5 C138.83,77.72 140.5,77.75 141,77.8" fill="none" stroke="#E11A47" stroke-width="1.15" stroke-opacity="0.9"/>
<path d="M68,115.8 C68.42,115.75 69.53,115.88 70.5,115.5 C71.47,115.12 72.83,114.17 73.8,113.5 C74.77,112.83 75.52,112.33 76.3,111.5 C77.08,110.67 77.63,110.08 78.5,108.5 C79.37,106.92 80.48,103.55 81.5,102 C82.52,100.45 83.68,99.45 84.6,99.2 C85.52,98.95 86.23,100.08 87,100.5 C87.77,100.92 88.37,103.12 89.2,101.7 C90.03,100.28 91.07,94.57 92,92 C92.93,89.43 93.97,86.3 94.8,86.3 C95.63,86.3 96.3,89.38 97,92 C97.7,94.62 98.33,99.92 99,102 C99.67,104.08 100.33,104.25 101,104.5 C101.67,104.75 102.25,103.83 103,103.5 C103.75,103.17 104.67,102 105.5,102.5 C106.33,103 106.88,104.57 108,106.5 C109.12,108.43 110.87,112.83 112.2,114.1 C113.53,115.37 114.87,114.1 116,114.1 C117.13,114.1 118.08,113.92 119,114.1 C119.92,114.28 120.8,114.92 121.5,115.2 C122.2,115.48 122.92,115.7 123.2,115.8" fill="none" stroke="#176A84" stroke-width="1.15" />
<path d="M68,115.8 C68.42,115.75 69.53,115.88 70.5,115.5 C71.47,115.12 72.83,114.17 73.8,113.5 C74.77,112.83 75.52,112.33 76.3,111.5 C77.08,110.67 77.63,110.92 78.5,108.5 C79.37,106.08 80.55,99.98 81.5,97 C82.45,94.02 83.37,90.93 84.2,90.6 C85.03,90.27 85.67,93.15 86.5,95 C87.33,96.85 88.28,102.2 89.2,101.7 C90.12,101.2 91.07,94.57 92,92 C92.93,89.43 93.97,86.3 94.8,86.3 C95.63,86.3 96.3,89.05 97,92 C97.7,94.95 98.43,100.93 99,104 C99.57,107.07 99.82,109.48 100.4,110.4 C100.98,111.32 101.7,109.85 102.5,109.5 C103.3,109.15 104.28,107.97 105.2,108.3 C106.12,108.63 107.07,110.35 108,111.5 C108.93,112.65 109.97,114.48 110.8,115.2 C111.63,115.92 112.63,115.7 113,115.8" fill="none" stroke="#E11A47" stroke-width="1.15" stroke-opacity="0.9"/>
<text transform="translate(33,30.4) scale(0.9,1)" font-size="8.4" fill="#444" text-anchor="end" stroke="#444" stroke-width="0.13" >0</text>
<text transform="translate(32.3,39.6)" font-size="8.5" fill="#444" text-anchor="end" stroke="#444" stroke-width="0.13" >μg/ml</text>
<text transform="translate(32.3,67.5) scale(0.9,1)" font-size="8.4" fill="#444" text-anchor="end" stroke="#444" stroke-width="0.13" >1.25</text>
<text transform="translate(32.3,77.6)" font-size="8.5" fill="#444" text-anchor="end" stroke="#444" stroke-width="0.13" >μg/ml</text>
<text transform="translate(32.3,101.7) scale(0.9,1)" font-size="8.4" fill="#444" text-anchor="end" stroke="#444" stroke-width="0.13" >5</text>
<text transform="translate(32.3,111.5)" font-size="8.5" fill="#444" text-anchor="end" stroke="#444" stroke-width="0.13" >μg/ml</text>
<text transform="translate(54.1,131.3) scale(0.92,1)" font-size="8" fill="#444" stroke="#444" stroke-width="0.13" >CTV</text>
<line x1="74.9" y1="128.5" x2="137.4" y2="128.5" stroke="#111" stroke-width="1.3" />
<path d="M142.4,128.5 L136.9,125 L136.9,132 Z" fill="#111"/>
<defs>
<filter id="bl1" x="-50%" y="-50%" width="200%" height="200%"><feGaussianBlur stdDeviation="1.3"/></filter>
<filter id="bl2" x="-50%" y="-50%" width="200%" height="200%"><feGaussianBlur stdDeviation="0.75"/></filter>
<filter id="bl3" x="-100%" y="-100%" width="300%" height="300%"><feGaussianBlur stdDeviation="0.4"/></filter>
</defs>
<text transform="translate(353.8,457.4)" font-size="9" fill="#DA2E5E" text-anchor="middle" stroke="#DA2E5E" stroke-width="0.1" >N1</text>
<text transform="translate(353.8,469)" font-size="9.5" fill="#1a1a1a" text-anchor="middle" stroke="#1a1a1a" stroke-width="0.1" >CD4+</text>
<text transform="translate(405.7,457.4)" font-size="9.5" fill="#4785C0" text-anchor="middle" stroke="#4785C0" stroke-width="0.1" letter-spacing="0.2">Control</text>
<text transform="translate(405.7,469)" font-size="9.5" fill="#1a1a1a" text-anchor="middle" stroke="#1a1a1a" stroke-width="0.1" >CD4+</text>
<text transform="translate(451.5,456.8) scale(1.16,1)" font-size="9" stroke-width="0.1"><tspan fill="#DA2E5E" stroke="#DA2E5E">N1</tspan><tspan fill="#1a1a1a" stroke="#1a1a1a"> and </tspan><tspan fill="#4785C0" stroke="#4785C0">Control</tspan></text>
<text transform="translate(450.8,468.4) scale(1.05,1)" font-size="9.3" fill="#1a1a1a" stroke="#1a1a1a" stroke-width="0.1">CD4+ EGFRt<tspan font-size="6.2" dy="-3.6">INT</tspan></text>
<line x1="330" y1="521.66" x2="328.4" y2="521.66" stroke="#222" stroke-width="0.7" />
<line x1="330" y1="521" x2="327.4" y2="521" stroke="#222" stroke-width="0.7" />
<line x1="330" y1="516.64" x2="328.4" y2="516.64" stroke="#222" stroke-width="0.7" />
<line x1="330" y1="514.08" x2="328.4" y2="514.08" stroke="#222" stroke-width="0.7" />
<line x1="330" y1="512.27" x2="328.4" y2="512.27" stroke="#222" stroke-width="0.7" />
<line x1="330" y1="510.86" x2="328.4" y2="510.86" stroke="#222" stroke-width="0.7" />
<line x1="330" y1="509.72" x2="328.4" y2="509.72" stroke="#222" stroke-width="0.7" />
<line x1="330" y1="508.75" x2="328.4" y2="508.75" stroke="#222" stroke-width="0.7" />
<line x1="330" y1="507.91" x2="328.4" y2="507.91" stroke="#222" stroke-width="0.7" />
<line x1="330" y1="507.16" x2="328.4" y2="507.16" stroke="#222" stroke-width="0.7" />
<line x1="330" y1="506.5" x2="327.4" y2="506.5" stroke="#222" stroke-width="0.7" />
<line x1="330" y1="502.14" x2="328.4" y2="502.14" stroke="#222" stroke-width="0.7" />
<line x1="330" y1="499.58" x2="328.4" y2="499.58" stroke="#222" stroke-width="0.7" />
<line x1="330" y1="497.77" x2="328.4" y2="497.77" stroke="#222" stroke-width="0.7" />
<line x1="330" y1="496.36" x2="328.4" y2="496.36" stroke="#222" stroke-width="0.7" />
<line x1="330" y1="495.22" x2="328.4" y2="495.22" stroke="#222" stroke-width="0.7" />
<line x1="330" y1="494.25" x2="328.4" y2="494.25" stroke="#222" stroke-width="0.7" />
<line x1="330" y1="493.41" x2="328.4" y2="493.41" stroke="#222" stroke-width="0.7" />
<line x1="330" y1="492.66" x2="328.4" y2="492.66" stroke="#222" stroke-width="0.7" />
<line x1="330" y1="492" x2="327.4" y2="492" stroke="#222" stroke-width="0.7" />
<line x1="330" y1="487.64" x2="328.4" y2="487.64" stroke="#222" stroke-width="0.7" />
<line x1="330" y1="485.08" x2="328.4" y2="485.08" stroke="#222" stroke-width="0.7" />
<line x1="330" y1="483.27" x2="328.4" y2="483.27" stroke="#222" stroke-width="0.7" />
<line x1="330" y1="481.86" x2="328.4" y2="481.86" stroke="#222" stroke-width="0.7" />
<line x1="330" y1="480.72" x2="328.4" y2="480.72" stroke="#222" stroke-width="0.7" />
<line x1="330" y1="479.75" x2="328.4" y2="479.75" stroke="#222" stroke-width="0.7" />
<line x1="330" y1="478.91" x2="328.4" y2="478.91" stroke="#222" stroke-width="0.7" />
<line x1="330" y1="478.16" x2="328.4" y2="478.16" stroke="#222" stroke-width="0.7" />
<line x1="330" y1="477.5" x2="327.4" y2="477.5" stroke="#222" stroke-width="0.7" />
<line x1="332.56" y1="523" x2="332.56" y2="524.6" stroke="#222" stroke-width="0.7" />
<line x1="333.6" y1="523" x2="333.6" y2="524.6" stroke="#222" stroke-width="0.7" />
<line x1="334.5" y1="523" x2="334.5" y2="524.6" stroke="#222" stroke-width="0.7" />
<line x1="335.29" y1="523" x2="335.29" y2="524.6" stroke="#222" stroke-width="0.7" />
<line x1="336" y1="523" x2="336" y2="525.6" stroke="#222" stroke-width="0.7" />
<line x1="340.67" y1="523" x2="340.67" y2="524.6" stroke="#222" stroke-width="0.7" />
<line x1="343.4" y1="523" x2="343.4" y2="524.6" stroke="#222" stroke-width="0.7" />
<line x1="345.33" y1="523" x2="345.33" y2="524.6" stroke="#222" stroke-width="0.7" />
<line x1="346.83" y1="523" x2="346.83" y2="524.6" stroke="#222" stroke-width="0.7" />
<line x1="348.06" y1="523" x2="348.06" y2="524.6" stroke="#222" stroke-width="0.7" />
<line x1="349.1" y1="523" x2="349.1" y2="524.6" stroke="#222" stroke-width="0.7" />
<line x1="350" y1="523" x2="350" y2="524.6" stroke="#222" stroke-width="0.7" />
<line x1="350.79" y1="523" x2="350.79" y2="524.6" stroke="#222" stroke-width="0.7" />
<line x1="351.5" y1="523" x2="351.5" y2="525.6" stroke="#222" stroke-width="0.7" />
<line x1="356.17" y1="523" x2="356.17" y2="524.6" stroke="#222" stroke-width="0.7" />
<line x1="358.9" y1="523" x2="358.9" y2="524.6" stroke="#222" stroke-width="0.7" />
<line x1="360.83" y1="523" x2="360.83" y2="524.6" stroke="#222" stroke-width="0.7" />
<line x1="362.33" y1="523" x2="362.33" y2="524.6" stroke="#222" stroke-width="0.7" />
<line x1="363.56" y1="523" x2="363.56" y2="524.6" stroke="#222" stroke-width="0.7" />
<line x1="364.6" y1="523" x2="364.6" y2="524.6" stroke="#222" stroke-width="0.7" />
<line x1="365.5" y1="523" x2="365.5" y2="524.6" stroke="#222" stroke-width="0.7" />
<line x1="366.29" y1="523" x2="366.29" y2="524.6" stroke="#222" stroke-width="0.7" />
<line x1="367" y1="523" x2="367" y2="525.6" stroke="#222" stroke-width="0.7" />
<line x1="371.67" y1="523" x2="371.67" y2="524.6" stroke="#222" stroke-width="0.7" />
<line x1="374.4" y1="523" x2="374.4" y2="524.6" stroke="#222" stroke-width="0.7" />
<line x1="376.33" y1="523" x2="376.33" y2="524.6" stroke="#222" stroke-width="0.7" />
<g filter="url(#bl1)">
<path d="M338.6,487 C338.6,481 347.2,481 347.2,487 L346.5,497.88 L344.7,510.9 L341.1,510.9 Z" fill="#F03535" opacity="0.45"/>
<path d="M338.6,487 L339.3,497.88" stroke="#F03535" stroke-width="4" opacity="0.45"/>
<circle cx="342.9" cy="512.9" r="4.6" fill="#F03535" opacity="0.5"/>
</g>
<g filter="url(#bl2)">
<path d="M339.8,485 L346,485 L343.9,507 L341.9,507 Z" fill="#F03535" opacity="0.6"/>
<line x1="341.1" y1="485.5" x2="342.1" y2="505" stroke="#DD1020" stroke-width="1.2" opacity="0.6"/>
<line x1="344.7" y1="485.5" x2="343.7" y2="505" stroke="#DD1020" stroke-width="1.2" opacity="0.6"/>
<circle cx="342.9" cy="512.9" r="3.2" fill="#DD1020" opacity="0.85"/>
</g>
<circle cx="342.9" cy="512.9" r="1.1" fill="#ffd0d0" opacity="0.75" filter="url(#bl3)"/>
<rect x="330" y="475.5" width="47.7" height="47.5" fill="none" stroke="#111" stroke-width="1.4"/>
<rect x="333.4" y="490.5" width="25.2" height="7" fill="none" stroke="#9a9a9a" stroke-width="0.65"/>
<line x1="381.9" y1="521.66" x2="380.3" y2="521.66" stroke="#222" stroke-width="0.7" />
<line x1="381.9" y1="521" x2="379.3" y2="521" stroke="#222" stroke-width="0.7" />
<line x1="381.9" y1="516.64" x2="380.3" y2="516.64" stroke="#222" stroke-width="0.7" />
<line x1="381.9" y1="514.08" x2="380.3" y2="514.08" stroke="#222" stroke-width="0.7" />
<line x1="381.9" y1="512.27" x2="380.3" y2="512.27" stroke="#222" stroke-width="0.7" />
<line x1="381.9" y1="510.86" x2="380.3" y2="510.86" stroke="#222" stroke-width="0.7" />
<line x1="381.9" y1="509.72" x2="380.3" y2="509.72" stroke="#222" stroke-width="0.7" />
<line x1="381.9" y1="508.75" x2="380.3" y2="508.75" stroke="#222" stroke-width="0.7" />
<line x1="381.9" y1="507.91" x2="380.3" y2="507.91" stroke="#222" stroke-width="0.7" />
<line x1="381.9" y1="507.16" x2="380.3" y2="507.16" stroke="#222" stroke-width="0.7" />
<line x1="381.9" y1="506.5" x2="379.3" y2="506.5" stroke="#222" stroke-width="0.7" />
<line x1="381.9" y1="502.14" x2="380.3" y2="502.14" stroke="#222" stroke-width="0.7" />
<line x1="381.9" y1="499.58" x2="380.3" y2="499.58" stroke="#222" stroke-width="0.7" />
<line x1="381.9" y1="497.77" x2="380.3" y2="497.77" stroke="#222" stroke-width="0.7" />
<line x1="381.9" y1="496.36" x2="380.3" y2="496.36" stroke="#222" stroke-width="0.7" />
<line x1="381.9" y1="495.22" x2="380.3" y2="495.22" stroke="#222" stroke-width="0.7" />
<line x1="381.9" y1="494.25" x2="380.3" y2="494.25" stroke="#222" stroke-width="0.7" />
<line x1="381.9" y1="493.41" x2="380.3" y2="493.41" stroke="#222" stroke-width="0.7" />
<line x1="381.9" y1="492.66" x2="380.3" y2="492.66" stroke="#222" stroke-width="0.7" />
<line x1="381.9" y1="492" x2="379.3" y2="492" stroke="#222" stroke-width="0.7" />
<line x1="381.9" y1="487.64" x2="380.3" y2="487.64" stroke="#222" stroke-width="0.7" />
<line x1="381.9" y1="485.08" x2="380.3" y2="485.08" stroke="#222" stroke-width="0.7" />
<line x1="381.9" y1="483.27" x2="380.3" y2="483.27" stroke="#222" stroke-width="0.7" />
<line x1="381.9" y1="481.86" x2="380.3" y2="481.86" stroke="#222" stroke-width="0.7" />
<line x1="381.9" y1="480.72" x2="380.3" y2="480.72" stroke="#222" stroke-width="0.7" />
<line x1="381.9" y1="479.75" x2="380.3" y2="479.75" stroke="#222" stroke-width="0.7" />
<line x1="381.9" y1="478.91" x2="380.3" y2="478.91" stroke="#222" stroke-width="0.7" />
<line x1="381.9" y1="478.16" x2="380.3" y2="478.16" stroke="#222" stroke-width="0.7" />
<line x1="381.9" y1="477.5" x2="379.3" y2="477.5" stroke="#222" stroke-width="0.7" />
<line x1="384.46" y1="523" x2="384.46" y2="524.6" stroke="#222" stroke-width="0.7" />
<line x1="385.5" y1="523" x2="385.5" y2="524.6" stroke="#222" stroke-width="0.7" />
<line x1="386.4" y1="523" x2="386.4" y2="524.6" stroke="#222" stroke-width="0.7" />
<line x1="387.19" y1="523" x2="387.19" y2="524.6" stroke="#222" stroke-width="0.7" />
<line x1="387.9" y1="523" x2="387.9" y2="525.6" stroke="#222" stroke-width="0.7" />
<line x1="392.57" y1="523" x2="392.57" y2="524.6" stroke="#222" stroke-width="0.7" />
<line x1="395.3" y1="523" x2="395.3" y2="524.6" stroke="#222" stroke-width="0.7" />
<line x1="397.23" y1="523" x2="397.23" y2="524.6" stroke="#222" stroke-width="0.7" />
<line x1="398.73" y1="523" x2="398.73" y2="524.6" stroke="#222" stroke-width="0.7" />
<line x1="399.96" y1="523" x2="399.96" y2="524.6" stroke="#222" stroke-width="0.7" />
<line x1="401" y1="523" x2="401" y2="524.6" stroke="#222" stroke-width="0.7" />
<line x1="401.9" y1="523" x2="401.9" y2="524.6" stroke="#222" stroke-width="0.7" />
<line x1="402.69" y1="523" x2="402.69" y2="524.6" stroke="#222" stroke-width="0.7" />
<line x1="403.4" y1="523" x2="403.4" y2="525.6" stroke="#222" stroke-width="0.7" />
<line x1="408.07" y1="523" x2="408.07" y2="524.6" stroke="#222" stroke-width="0.7" />
<line x1="410.8" y1="523" x2="410.8" y2="524.6" stroke="#222" stroke-width="0.7" />
<line x1="412.73" y1="523" x2="412.73" y2="524.6" stroke="#222" stroke-width="0.7" />
<line x1="414.23" y1="523" x2="414.23" y2="524.6" stroke="#222" stroke-width="0.7" />
<line x1="415.46" y1="523" x2="415.46" y2="524.6" stroke="#222" stroke-width="0.7" />
<line x1="416.5" y1="523" x2="416.5" y2="524.6" stroke="#222" stroke-width="0.7" />
<line x1="417.4" y1="523" x2="417.4" y2="524.6" stroke="#222" stroke-width="0.7" />
<line x1="418.19" y1="523" x2="418.19" y2="524.6" stroke="#222" stroke-width="0.7" />
<line x1="418.9" y1="523" x2="418.9" y2="525.6" stroke="#222" stroke-width="0.7" />
<line x1="423.57" y1="523" x2="423.57" y2="524.6" stroke="#222" stroke-width="0.7" />
<line x1="426.3" y1="523" x2="426.3" y2="524.6" stroke="#222" stroke-width="0.7" />
<line x1="428.23" y1="523" x2="428.23" y2="524.6" stroke="#222" stroke-width="0.7" />
<g filter="url(#bl1)">
<path d="M390.5,490.4 C390.5,484.4 399.1,484.4 399.1,490.4 L398.4,499.17 L396.6,511.5 L393,511.5 Z" fill="#3A6CC0" opacity="0.45"/>
<path d="M390.5,490.4 L391.2,499.17" stroke="#3A6CC0" stroke-width="4" opacity="0.45"/>
<circle cx="394.8" cy="513.5" r="4.6" fill="#3A6CC0" opacity="0.5"/>
</g>
<g filter="url(#bl2)">
<path d="M391.7,488.4 L397.9,488.4 L395.8,507 L393.8,507 Z" fill="#3A6CC0" opacity="0.6"/>
<line x1="393" y1="488.9" x2="394" y2="505" stroke="#234E9E" stroke-width="1.2" opacity="0.6"/>
<line x1="396.6" y1="488.9" x2="395.6" y2="505" stroke="#234E9E" stroke-width="1.2" opacity="0.6"/>
<circle cx="394.8" cy="513.5" r="3.2" fill="#234E9E" opacity="0.85"/>
</g>
<circle cx="394.8" cy="513.5" r="1.1" fill="#8ab8f0" opacity="0.75" filter="url(#bl3)"/>
<rect x="381.9" y="475.5" width="47.6" height="47.5" fill="none" stroke="#111" stroke-width="1.4"/>
<rect x="384.6" y="490.6" width="25.2" height="7" fill="none" stroke="#9a9a9a" stroke-width="0.65"/>
<line x1="462.45" y1="522.9" x2="462.45" y2="524.3" stroke="#222" stroke-width="0.7" />
<line x1="463.52" y1="522.9" x2="463.52" y2="524.3" stroke="#222" stroke-width="0.7" />
<line x1="464.45" y1="522.9" x2="464.45" y2="524.3" stroke="#222" stroke-width="0.7" />
<line x1="465.27" y1="522.9" x2="465.27" y2="524.3" stroke="#222" stroke-width="0.7" />
<line x1="466" y1="522.9" x2="466" y2="525.3" stroke="#222" stroke-width="0.7" />
<line x1="470.82" y1="522.9" x2="470.82" y2="524.3" stroke="#222" stroke-width="0.7" />
<line x1="473.63" y1="522.9" x2="473.63" y2="524.3" stroke="#222" stroke-width="0.7" />
<line x1="475.63" y1="522.9" x2="475.63" y2="524.3" stroke="#222" stroke-width="0.7" />
<line x1="477.18" y1="522.9" x2="477.18" y2="524.3" stroke="#222" stroke-width="0.7" />
<line x1="478.45" y1="522.9" x2="478.45" y2="524.3" stroke="#222" stroke-width="0.7" />
<line x1="479.52" y1="522.9" x2="479.52" y2="524.3" stroke="#222" stroke-width="0.7" />
<line x1="480.45" y1="522.9" x2="480.45" y2="524.3" stroke="#222" stroke-width="0.7" />
<line x1="481.27" y1="522.9" x2="481.27" y2="524.3" stroke="#222" stroke-width="0.7" />
<line x1="482" y1="522.9" x2="482" y2="525.3" stroke="#222" stroke-width="0.7" />
<line x1="486.82" y1="522.9" x2="486.82" y2="524.3" stroke="#222" stroke-width="0.7" />
<line x1="489.63" y1="522.9" x2="489.63" y2="524.3" stroke="#222" stroke-width="0.7" />
<line x1="491.63" y1="522.9" x2="491.63" y2="524.3" stroke="#222" stroke-width="0.7" />
<line x1="493.18" y1="522.9" x2="493.18" y2="524.3" stroke="#222" stroke-width="0.7" />
<line x1="494.45" y1="522.9" x2="494.45" y2="524.3" stroke="#222" stroke-width="0.7" />
<line x1="495.52" y1="522.9" x2="495.52" y2="524.3" stroke="#222" stroke-width="0.7" />
<line x1="496.45" y1="522.9" x2="496.45" y2="524.3" stroke="#222" stroke-width="0.7" />
<line x1="497.27" y1="522.9" x2="497.27" y2="524.3" stroke="#222" stroke-width="0.7" />
<line x1="498" y1="522.9" x2="498" y2="525.3" stroke="#222" stroke-width="0.7" />
<line x1="502.82" y1="522.9" x2="502.82" y2="524.3" stroke="#222" stroke-width="0.7" />
<line x1="505.63" y1="522.9" x2="505.63" y2="524.3" stroke="#222" stroke-width="0.7" />
<line x1="507.63" y1="522.9" x2="507.63" y2="524.3" stroke="#222" stroke-width="0.7" />
<path d="M482,522.6 C482.33,522.42 483.33,523.1 484,521.5 C484.67,519.9 485.33,517.08 486,513 C486.67,508.92 487.4,501.75 488,497 C488.6,492.25 489.17,487.2 489.6,484.5 C490.03,481.8 490.23,481.22 490.6,480.8 C490.97,480.38 491.37,480.63 491.8,482 C492.23,483.37 492.7,485.67 493.2,489 C493.7,492.33 494.28,497.67 494.8,502 C495.32,506.33 495.8,511.7 496.3,515 C496.8,518.3 497.18,520.53 497.8,521.8 C498.42,523.07 499.63,522.47 500,522.6" fill="none" stroke="#2A5BA8" stroke-width="1.1" />
<path d="M481.5,522.6 C481.83,522.42 482.83,523.1 483.5,521.5 C484.17,519.9 484.83,517.08 485.5,513 C486.17,508.92 486.88,501.83 487.5,497 C488.12,492.17 488.75,486.8 489.2,484 C489.65,481.2 489.85,480.7 490.2,480.2 C490.55,479.7 490.9,479.87 491.3,481 C491.7,482.13 492.15,483.83 492.6,487 C493.05,490.17 493.52,495.5 494,500 C494.48,504.5 495,510.42 495.5,514 C496,517.58 496.42,520.07 497,521.5 C497.58,522.93 498.67,522.42 499,522.6" fill="none" stroke="#D8285A" stroke-width="1.1" stroke-opacity="0.9"/>
<rect x="461.4" y="475.8" width="47.1" height="47.2" fill="none" stroke="#111" stroke-width="1.4"/>
<text transform="translate(325.4,512.5) rotate(-90) scale(0.78,1)" font-size="9" fill="#333" text-anchor="middle" stroke="#333" stroke-width="0.13" >EGFRt</text>
<line x1="322.6" y1="499" x2="322.6" y2="480.8" stroke="#111" stroke-width="1.2" />
<path d="M322.6,476.8 L320.2,481.3 L325,481.3 Z" fill="#111"/>
<text transform="translate(329.7,535.8) scale(0.72,1)" font-size="9" fill="#333" stroke="#333" stroke-width="0.13" >FSC-A</text>
<line x1="353.7" y1="533.4" x2="421.7" y2="533.4" stroke="#111" stroke-width="1.1" />
<path d="M425.8,533.4 L421.2,530.9 L421.2,535.9 Z" fill="#111"/>
<text transform="translate(445.1,493) scale(0.8,1)" font-size="9" fill="#333" text-anchor="middle" stroke="#333" stroke-width="0.13" >Sort for</text>
<line x1="435.1" y1="498" x2="453.2" y2="498" stroke="#111" stroke-width="1.2" />
<path d="M457.2,498 L452.7,495.4 L452.7,500.6 Z" fill="#111"/>
<text transform="translate(445.7,509.8) scale(0.8,1)" font-size="9" fill="#333" text-anchor="middle" stroke="#333" stroke-width="0.13" >restim.</text>
<text transform="translate(460.7,535.8) scale(0.8,1)" font-size="9" fill="#333" stroke="#333" stroke-width="0.13" >rCD19</text>
<line x1="486.4" y1="533.3" x2="504.4" y2="533.3" stroke="#111" stroke-width="1.1" />
<path d="M508.5,533.3 L503.9,530.8 L503.9,535.8 Z" fill="#111"/>
<line x1="65.6" y1="355.2" x2="65.6" y2="352" stroke="#176A84" stroke-width="1.1" />
<path d="M65.6,348.5 L63.3,352.5 L67.9,352.5 Z" fill="#176A84"/>
<line x1="79.8" y1="355.2" x2="79.8" y2="352" stroke="#176A84" stroke-width="1.1" />
<path d="M79.8,348.5 L77.5,352.5 L82.1,352.5 Z" fill="#176A84"/>
<line x1="222.9" y1="515.8" x2="222.9" y2="512.3" stroke="#176A84" stroke-width="1.1" />
<path d="M222.9,509.2 L220.7,512.8 L225.1,512.8 Z" fill="#176A84"/>
</svg>
</body></html>
